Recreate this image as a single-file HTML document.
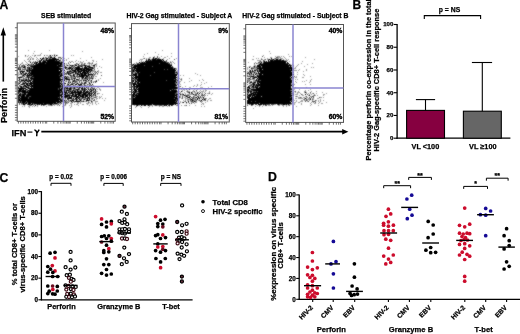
<!DOCTYPE html>
<html><head><meta charset="utf-8"><style>
html,body{margin:0;padding:0;background:#fff;overflow:hidden}
svg{display:block;will-change:transform}
text{font-family:"Liberation Sans",sans-serif;stroke:#000;stroke-width:0.25px}
</style></head><body>
<svg width="520" height="334" viewBox="0 0 520 334">
<text x="-0.60" y="9.10" font-size="12.2" text-anchor="start" font-weight="bold" fill="#000">A</text>
<text x="352.60" y="8.90" font-size="12.0" text-anchor="start" font-weight="bold" fill="#000">B</text>
<text x="-0.60" y="181.60" font-size="12.2" text-anchor="start" font-weight="bold" fill="#000">C</text>
<text x="268.00" y="181.10" font-size="12.3" text-anchor="start" font-weight="bold" fill="#000">D</text>
<text x="66.20" y="17.80" font-size="6.85" text-anchor="middle" font-weight="bold" fill="#000">SEB stimulated</text>
<text x="114.00" y="32.70" font-size="6.8" text-anchor="end" font-weight="bold" fill="#000" style="stroke-width:0.4px">48%</text>
<text x="114.00" y="118.70" font-size="6.8" text-anchor="end" font-weight="bold" fill="#000" style="stroke-width:0.4px">52%</text>
<text x="179.40" y="17.80" font-size="6.85" text-anchor="middle" font-weight="bold" fill="#000">HIV-2 Gag stimulated - Subject A</text>
<text x="228.10" y="32.70" font-size="6.8" text-anchor="end" font-weight="bold" fill="#000" style="stroke-width:0.4px">9%</text>
<text x="228.10" y="118.70" font-size="6.8" text-anchor="end" font-weight="bold" fill="#000" style="stroke-width:0.4px">81%</text>
<text x="295.40" y="17.80" font-size="6.85" text-anchor="middle" font-weight="bold" fill="#000">HIV-2 Gag stimulated - Subject B</text>
<text x="342.30" y="32.70" font-size="6.8" text-anchor="end" font-weight="bold" fill="#000" style="stroke-width:0.4px">40%</text>
<text x="342.30" y="118.70" font-size="6.8" text-anchor="end" font-weight="bold" fill="#000" style="stroke-width:0.4px">60%</text>
<defs><filter id="bl" filterUnits="userSpaceOnUse" x="0" y="0" width="520" height="334"><feConvolveMatrix order="3" kernelMatrix="1 2 1 2 12 2 1 2 1" divisor="24" edgeMode="none"/></filter></defs><g filter="url(#bl)">
<path d="M28 50h1M49 50h1M34 51h1M82 51h1M33 53h1M41 53h1M40 54h1M54 54h1M28 55h1M32 55h1M34 55h1M37 55h4M46 55h2M49 55h1M57 55h1M71 55h1M73 55h1M18 56h1M25 56h1M27 56h1M30 56h1M34 56h1M48 56h2M51 56h1M54 56h2M29 57h1M31 57h1M36 57h1M46 57h1M49 57h1M52 57h2M62 57h1M91 57h1M28 58h1M30 58h1M32 58h2M37 58h1M44 58h2M48 58h1M51 58h1M56 58h1M58 58h1M60 58h1M64 58h1M68 58h1M80 58h1M27 59h2M32 59h2M36 59h1M38 59h1M43 59h3M47 59h1M60 59h1M62 59h1M66 59h1M102 59h1M24 60h1M29 60h1M37 60h1M57 60h2M62 60h3M66 60h1M76 60h1M86 60h1M92 60h2M25 61h1M28 61h3M33 61h1M37 61h2M46 61h1M60 61h3M69 61h1M71 61h2M75 61h1M78 61h1M80 61h1M83 61h1M93 61h1M96 61h1M22 62h1M26 62h1M33 62h1M68 62h1M73 62h1M80 62h3M88 62h2M92 62h1M21 63h2M27 63h1M31 63h2M37 63h1M62 63h2M66 63h1M77 63h1M79 63h1M81 63h2M85 63h1M87 63h2M90 63h2M96 63h1M18 64h1M23 64h1M25 64h2M29 64h2M32 64h1M62 64h1M64 64h1M66 64h1M69 64h1M74 64h1M76 64h2M82 64h2M89 64h1M91 64h1M94 64h1M96 64h1M21 65h1M28 65h1M62 65h1M66 65h1M68 65h2M74 65h1M87 65h2M91 65h2M96 65h1M23 66h1M28 66h1M64 66h1M69 66h1M73 66h1M84 66h1M86 66h1M90 66h1M93 66h1M96 66h1M99 66h1M21 67h2M30 67h1M60 67h1M67 67h2M72 67h1M74 67h1M87 67h1M93 67h1M101 67h1M19 68h1M22 68h1M24 68h1M32 68h1M66 68h2M73 68h1M94 68h1M97 68h1M26 69h1M61 69h2M68 69h1M73 69h2M92 69h1M19 70h4M24 70h1M62 70h1M69 70h1M71 70h1M76 70h1M93 70h2M98 70h1M19 71h1M26 71h1M30 71h1M65 71h1M72 71h1M82 71h1M89 71h1M91 71h4M98 71h1M18 72h1M25 72h2M28 72h1M61 72h3M66 72h1M70 72h1M74 72h1M77 72h1M92 72h1M94 72h2M98 72h1M100 72h2M18 73h1M22 73h1M24 73h1M27 73h1M62 73h1M64 73h1M72 73h2M79 73h1M90 73h2M18 74h3M22 74h1M28 74h1M62 74h1M65 74h1M70 74h1M75 74h2M86 74h2M93 74h1M95 74h1M97 74h1M18 75h1M24 75h2M63 75h1M69 75h1M72 75h1M76 75h1M89 75h3M93 75h2M20 76h2M23 76h1M26 76h1M30 76h1M63 76h1M66 76h1M68 76h1M70 76h1M72 76h1M75 76h1M85 76h1M88 76h1M92 76h1M95 76h2M22 77h2M25 77h1M60 77h2M65 77h1M67 77h1M69 77h2M72 77h3M78 77h2M88 77h1M90 77h1M92 77h2M18 78h1M24 78h3M62 78h2M68 78h2M72 78h1M81 78h1M83 78h1M88 78h1M93 78h1M95 78h1M100 78h1M20 79h1M22 79h1M24 79h1M27 79h1M29 79h2M65 79h1M70 79h1M79 79h1M81 79h6M92 79h1M98 79h1M32 80h1M61 80h2M66 80h1M68 80h1M72 80h1M75 80h3M79 80h1M89 80h2M98 80h1M22 81h2M25 81h2M60 81h1M62 81h1M65 81h1M69 81h2M77 81h1M81 81h1M83 81h1M85 81h1M87 81h2M90 81h1M93 81h2M18 82h2M22 82h1M24 82h1M26 82h1M60 82h1M64 82h1M69 82h1M74 82h1M76 82h2M82 82h1M86 82h1M88 82h1M103 82h1M67 83h3M71 83h1M76 83h1M78 83h1M80 83h1M83 83h1M86 83h1M90 83h1M20 84h1M28 84h1M32 84h1M60 84h1M64 84h1M73 84h1M83 84h1M88 84h2M20 85h1M23 85h1M26 85h1M30 85h1M61 85h1M66 85h1M68 85h1M74 85h2M77 85h2M82 85h1M86 85h2M90 85h1M93 85h1M18 86h2M22 86h1M27 86h1M29 86h1M64 86h2M67 86h1M71 86h1M74 86h2M82 86h1M86 86h1M88 86h3M94 86h1M24 87h2M29 87h1M32 87h1M61 87h1M63 87h1M69 87h1M72 87h1M75 87h1M78 87h1M81 87h1M87 87h1M92 87h1M94 87h1M97 87h2M27 88h1M60 88h1M65 88h1M72 88h1M75 88h1M83 88h1M87 88h1M91 88h1M96 88h1M99 88h1M18 89h1M65 89h2M68 89h1M74 89h1M89 89h1M92 89h1M94 89h1M97 89h1M99 89h2M26 90h1M62 90h1M65 90h1M71 90h1M76 90h1M78 90h2M90 90h1M100 90h1M65 91h1M73 91h1M76 91h1M85 91h1M89 91h1M96 91h2M20 92h2M67 92h1M70 92h1M90 92h1M92 92h1M94 92h1M19 93h1M21 93h1M26 93h1M60 93h2M64 93h1M74 93h1M76 93h1M82 93h1M87 93h1M98 93h2M18 94h1M66 94h1M70 94h1M74 94h1M90 94h1M94 94h1M97 94h1M102 94h1M25 95h1M64 95h1M88 95h1M92 95h1M94 95h1M60 96h1M79 96h1M84 96h1M92 96h2M95 96h3M99 96h1M101 96h1M20 97h1M62 97h1M73 97h3M80 97h2M90 97h2M93 97h1M96 97h1M99 97h2M61 98h2M72 98h1M77 98h1M80 98h1M83 98h2M93 98h1M96 98h2M99 98h1M102 98h1M105 98h1M65 99h1M71 99h1M85 99h2M91 99h2M96 99h1M59 100h1M63 100h1M65 100h1M69 100h1M77 100h3M81 100h1M83 100h1M90 100h2M104 100h1M19 101h1M64 101h1M66 101h5M72 101h1M80 101h1M84 101h2M88 101h1M92 101h1M95 101h3M56 102h1M61 102h1M64 102h1M67 102h1M71 102h1M74 102h1M77 102h2M80 102h1M89 102h1M91 102h2M95 102h1M27 103h1M31 103h1M58 103h3M66 103h2M70 103h2M77 103h2M80 103h1M86 103h3M90 103h1M92 103h1M95 103h1M98 103h1M21 104h2M25 104h1M33 104h1M35 104h2M40 104h1M47 104h1M52 104h1M54 104h4M60 104h1M71 104h1M74 104h1M76 104h2M82 104h2M87 104h1M92 104h1M96 104h1M24 105h1M29 105h1M31 105h1M33 105h1M37 105h1M44 105h1M48 105h3M52 105h1M54 105h1M57 105h1M64 105h2M69 105h1M71 105h1M78 105h1M89 105h1M22 106h1M24 106h1M28 106h2M32 106h1M34 106h1M37 106h1M46 106h1M62 106h2M71 106h1M29 107h1M70 107h1" stroke="#000" stroke-opacity="0.38" stroke-width="1" transform="translate(0 .5)"/>
<path d="M25 55h1M35 55h1M44 55h1M52 55h1M50 56h1M43 57h1M45 57h1M48 57h1M58 57h3M49 58h2M61 58h1M30 59h1M42 59h1M48 59h1M39 60h2M44 60h2M55 60h1M60 60h1M35 61h1M42 61h1M59 61h1M32 62h1M34 62h2M41 62h1M60 62h1M70 62h1M35 63h1M45 63h1M68 63h1M76 63h1M84 63h1M89 63h1M92 63h1M20 64h1M31 64h1M35 64h1M59 64h1M75 64h1M81 64h1M84 64h1M95 64h1M19 65h1M22 65h3M29 65h5M57 65h1M61 65h1M64 65h1M71 65h1M73 65h1M78 65h6M86 65h1M89 65h1M19 66h1M21 66h2M25 66h1M30 66h1M62 66h2M65 66h1M71 66h2M74 66h1M77 66h1M79 66h2M82 66h1M94 66h1M18 67h3M25 67h1M28 67h1M31 67h2M59 67h1M63 67h2M71 67h1M73 67h1M82 67h1M88 67h1M94 67h1M20 68h1M25 68h1M27 68h2M30 68h1M62 68h2M71 68h1M74 68h2M83 68h1M89 68h3M93 68h1M19 69h1M22 69h4M27 69h2M30 69h2M66 69h2M69 69h1M72 69h1M82 69h1M85 69h1M94 69h1M28 70h1M63 70h1M70 70h1M79 70h2M87 70h1M90 70h1M92 70h1M28 71h1M63 71h1M68 71h1M71 71h1M73 71h1M76 71h2M85 71h1M95 71h1M97 71h1M23 72h1M30 72h1M64 72h1M68 72h2M71 72h1M76 72h1M79 72h1M86 72h1M88 72h3M96 72h1M20 73h1M23 73h1M29 73h1M60 73h1M63 73h1M65 73h3M69 73h1M71 73h1M76 73h1M78 73h1M83 73h1M87 73h1M93 73h1M95 73h1M97 73h1M21 74h1M23 74h1M30 74h1M60 74h1M64 74h1M66 74h1M69 74h1M74 74h1M80 74h1M83 74h1M94 74h1M22 75h1M26 75h1M32 75h1M59 75h1M71 75h1M74 75h1M77 75h1M80 75h1M87 75h1M92 75h1M101 75h1M22 76h1M24 76h1M28 76h2M31 76h1M61 76h1M64 76h1M67 76h1M71 76h1M73 76h1M76 76h3M84 76h1M89 76h1M93 76h1M26 77h2M29 77h2M32 77h2M62 77h2M68 77h1M71 77h1M75 77h1M77 77h1M81 77h1M86 77h2M89 77h1M91 77h1M19 78h1M23 78h1M60 78h1M64 78h1M67 78h1M71 78h1M73 78h1M75 78h1M79 78h1M84 78h1M86 78h2M89 78h3M21 79h1M23 79h1M25 79h1M32 79h1M64 79h1M71 79h2M74 79h1M78 79h1M89 79h1M18 80h2M24 80h1M27 80h2M31 80h1M63 80h1M69 80h1M73 80h1M78 80h1M80 80h2M84 80h1M86 80h1M96 80h1M19 81h3M29 81h1M63 81h1M66 81h1M68 81h1M72 81h1M74 81h3M79 81h1M86 81h1M91 81h1M95 81h1M20 82h1M23 82h1M28 82h1M32 82h1M61 82h1M72 82h1M75 82h1M79 82h1M81 82h1M84 82h1M89 82h1M93 82h1M95 82h1M18 83h1M22 83h1M25 83h1M28 83h1M61 83h3M72 83h3M81 83h2M85 83h1M18 84h1M23 84h2M29 84h1M62 84h1M67 84h1M70 84h1M79 84h1M84 84h1M87 84h1M90 84h1M19 85h1M63 85h2M67 85h1M69 85h2M73 85h1M80 85h2M84 85h2M89 85h1M91 85h1M24 86h1M28 86h1M61 86h1M63 86h1M69 86h1M72 86h1M80 86h1M83 86h1M20 87h1M22 87h2M60 87h1M64 87h1M66 87h1M71 87h1M73 87h1M76 87h1M80 87h1M84 87h1M88 87h1M91 87h1M58 88h1M63 88h1M68 88h1M71 88h1M73 88h1M78 88h2M85 88h1M88 88h1M90 88h1M92 88h3M22 89h1M25 89h1M27 89h1M29 89h1M58 89h1M62 89h1M67 89h1M71 89h1M73 89h1M75 89h1M79 89h1M81 89h1M83 89h1M85 89h1M91 89h1M21 90h1M27 90h1M63 90h1M69 90h2M72 90h1M74 90h2M80 90h4M85 90h1M87 90h1M89 90h1M92 90h2M26 91h1M28 91h1M60 91h1M62 91h2M68 91h2M71 91h1M79 91h1M88 91h1M93 91h3M19 92h1M61 92h1M69 92h1M82 92h1M84 92h1M88 92h1M91 92h1M22 93h2M27 93h1M63 93h1M66 93h1M69 93h1M73 93h1M77 93h1M81 93h1M86 93h1M90 93h1M92 93h1M95 93h1M97 93h1M21 94h1M26 94h1M60 94h1M67 94h3M80 94h2M86 94h1M88 94h1M95 94h1M21 95h1M70 95h1M73 95h2M81 95h1M84 95h1M91 95h1M93 95h1M19 96h2M25 96h1M29 96h2M63 96h1M68 96h1M72 96h1M28 97h1M58 97h1M63 97h2M66 97h3M78 97h1M84 97h1M87 97h1M89 97h1M94 97h2M19 98h1M28 98h1M60 98h1M65 98h1M79 98h1M81 98h2M85 98h2M88 98h1M91 98h2M20 99h1M61 99h3M67 99h2M72 99h4M77 99h1M80 99h2M83 99h1M94 99h1M62 100h1M66 100h1M68 100h1M71 100h1M89 100h1M93 100h2M21 101h1M26 101h1M60 101h1M62 101h1M65 101h1M73 101h2M81 101h2M86 101h1M19 102h1M21 102h1M25 102h1M27 102h1M59 102h1M65 102h2M68 102h1M72 102h1M88 102h1M19 103h1M21 103h2M24 103h1M33 103h1M43 103h1M53 103h1M57 103h1M61 103h1M65 103h1M19 104h1M27 104h1M30 104h1M34 104h1M38 104h1M46 104h1M48 104h2M53 104h1M58 104h1M63 104h1M65 104h1M30 105h1M41 105h1M43 105h1M51 105h1M59 105h1" stroke="#000" stroke-opacity="0.68" stroke-width="1" transform="translate(0 .5)"/>
<path d="M50 55h1M54 55h1M56 55h1M50 57h2M54 57h1M40 58h1M42 58h2M46 58h2M52 58h4M41 59h1M46 59h1M49 59h10M41 60h1M43 60h1M46 60h9M56 60h1M59 60h1M39 61h2M43 61h3M47 61h12M30 62h1M36 62h2M39 62h2M42 62h18M61 62h2M34 63h1M36 63h1M38 63h7M46 63h16M64 63h1M28 64h1M33 64h1M36 64h23M60 64h2M63 64h1M78 64h1M27 65h1M34 65h23M58 65h3M63 65h1M67 65h1M70 65h1M72 65h1M75 65h2M84 65h2M93 65h2M24 66h1M31 66h31M78 66h1M81 66h1M85 66h1M87 66h3M23 67h2M27 67h1M29 67h1M33 67h26M65 67h2M69 67h2M75 67h5M84 67h3M89 67h4M18 68h1M29 68h1M31 68h1M33 68h29M65 68h1M68 68h3M72 68h1M76 68h7M84 68h5M92 68h1M18 69h1M20 69h1M29 69h1M32 69h29M63 69h1M71 69h1M75 69h7M83 69h2M86 69h6M26 70h2M29 70h30M60 70h2M64 70h1M72 70h4M77 70h2M81 70h6M88 70h2M91 70h1M20 71h5M27 71h1M29 71h1M31 71h31M67 71h1M69 71h2M74 71h2M78 71h4M83 71h2M86 71h3M90 71h1M20 72h1M22 72h1M29 72h1M31 72h30M67 72h1M72 72h2M75 72h1M78 72h1M80 72h1M82 72h4M87 72h1M21 73h1M25 73h2M28 73h1M30 73h30M61 73h1M68 73h1M70 73h1M75 73h1M77 73h1M80 73h3M84 73h3M88 73h1M24 74h2M27 74h1M29 74h1M31 74h29M61 74h1M63 74h1M68 74h1M73 74h1M77 74h3M81 74h2M84 74h2M88 74h5M23 75h1M27 75h5M33 75h26M60 75h3M70 75h1M73 75h1M79 75h1M81 75h6M88 75h1M27 76h1M32 76h29M65 76h1M74 76h1M79 76h5M86 76h2M91 76h1M18 77h4M28 77h1M31 77h1M34 77h26M64 77h1M66 77h1M82 77h2M85 77h1M28 78h1M30 78h30M65 78h2M74 78h1M82 78h1M85 78h1M92 78h1M19 79h1M26 79h1M28 79h1M31 79h1M33 79h31M66 79h4M76 79h2M87 79h1M21 80h3M25 80h2M29 80h2M33 80h28M64 80h1M74 80h1M83 80h1M85 80h1M88 80h1M91 80h1M24 81h1M27 81h2M30 81h1M32 81h28M61 81h1M73 81h1M96 81h1M25 82h1M30 82h2M33 82h27M68 82h1M70 82h1M85 82h1M91 82h1M19 83h1M23 83h2M26 83h2M29 83h32M64 83h2M77 83h1M84 83h1M89 83h1M21 84h2M26 84h2M30 84h2M33 84h27M61 84h1M68 84h1M71 84h2M75 84h2M78 84h1M80 84h2M92 84h1M24 85h2M27 85h3M31 85h30M62 85h1M79 85h1M20 86h2M23 86h1M25 86h2M30 86h31M62 86h1M68 86h1M79 86h1M84 86h1M91 86h2M18 87h1M21 87h1M26 87h3M31 87h1M33 87h27M62 87h1M65 87h1M67 87h1M70 87h1M74 87h1M77 87h1M79 87h1M82 87h1M86 87h1M18 88h8M28 88h30M59 88h1M61 88h2M64 88h1M66 88h2M69 88h2M74 88h1M81 88h2M84 88h1M19 89h3M23 89h1M26 89h1M30 89h28M59 89h3M64 89h1M69 89h2M76 89h3M82 89h1M84 89h1M86 89h1M88 89h1M90 89h1M93 89h1M95 89h1M18 90h3M22 90h4M28 90h34M64 90h1M66 90h3M73 90h1M77 90h1M84 90h1M91 90h1M95 90h1M18 91h8M27 91h1M29 91h31M61 91h1M64 91h1M66 91h1M70 91h1M72 91h1M74 91h2M77 91h2M80 91h2M83 91h2M86 91h2M90 91h2M18 92h1M22 92h39M62 92h5M68 92h1M71 92h11M83 92h1M85 92h3M89 92h1M93 92h1M95 92h1M18 93h1M20 93h1M24 93h2M28 93h32M62 93h1M65 93h1M67 93h1M70 93h3M75 93h1M78 93h3M83 93h3M88 93h2M91 93h1M94 93h1M19 94h2M22 94h4M27 94h33M61 94h5M72 94h2M75 94h5M82 94h4M87 94h1M89 94h1M91 94h1M93 94h1M18 95h3M22 95h3M26 95h36M63 95h1M65 95h5M71 95h2M75 95h2M78 95h3M82 95h2M85 95h3M89 95h2M95 95h1M18 96h1M21 96h4M26 96h3M31 96h29M61 96h2M64 96h4M69 96h1M71 96h1M73 96h6M80 96h4M85 96h3M89 96h1M91 96h1M18 97h2M21 97h7M29 97h29M59 97h1M61 97h1M65 97h1M69 97h3M76 97h2M79 97h1M82 97h2M85 97h1M88 97h1M18 98h1M20 98h8M29 98h31M63 98h1M67 98h5M73 98h1M75 98h2M78 98h1M87 98h1M89 98h1M18 99h2M21 99h40M76 99h1M79 99h1M84 99h1M87 99h1M89 99h1M18 100h41M60 100h2M64 100h1M70 100h1M72 100h2M76 100h1M80 100h1M86 100h3M18 101h1M20 101h1M22 101h4M27 101h33M61 101h1M63 101h1M71 101h1M75 101h5M83 101h1M91 101h1M18 102h1M20 102h1M22 102h3M26 102h1M28 102h28M57 102h2M60 102h1M63 102h1M23 103h1M25 103h2M28 103h3M32 103h1M34 103h9M44 103h9M54 103h3M23 104h2M28 104h2M31 104h2M37 104h1M39 104h1M41 104h5M50 104h2M35 105h1" stroke="#000" stroke-opacity="1.00" stroke-width="1" transform="translate(0 .5)"/>
<path d="M162 50h1M155 52h1M147 53h1M171 53h1M144 54h1M158 54h1M143 56h1M154 56h1M161 56h1M167 56h1M171 56h1M149 57h2M154 57h1M159 57h1M164 57h2M143 58h1M146 58h1M148 58h2M152 58h1M154 58h1M157 58h1M159 58h1M163 58h1M169 58h1M176 58h1M140 59h3M150 59h2M161 59h1M163 59h1M167 59h1M139 60h1M141 60h1M147 60h1M162 60h1M141 61h1M143 61h1M170 61h1M172 61h1M178 61h1M136 62h1M140 62h1M171 62h1M173 62h1M134 63h1M136 63h1M139 63h1M171 63h1M174 63h1M134 64h1M136 64h1M170 64h1M133 65h1M132 66h1M171 66h1M173 67h1M133 68h1M176 68h1M135 69h1M175 69h2M177 70h1M135 71h1M175 71h3M133 72h2M136 72h1M133 73h2M175 73h2M195 73h1M137 74h1M197 74h1M137 75h1M178 75h1M180 75h1M183 75h1M200 75h1M132 76h1M177 76h1M133 77h1M177 77h2M134 78h1M177 78h3M181 78h1M189 78h1M133 79h1M177 79h1M180 79h1M202 79h1M134 80h1M136 80h1M176 80h1M181 80h1M191 80h1M199 80h1M203 80h1M176 81h5M189 81h1M136 82h1M139 82h1M177 82h3M184 82h1M201 82h1M206 82h1M136 83h1M176 83h2M179 83h1M204 83h1M176 84h1M180 84h1M197 84h1M201 84h1M178 85h1M194 85h1M197 85h1M200 85h1M176 86h1M178 86h2M185 86h1M193 86h1M196 86h1M211 86h1M132 87h1M135 87h1M182 87h1M189 87h2M200 87h3M208 87h1M135 88h1M137 88h1M178 88h1M182 88h2M204 88h1M176 89h1M178 89h1M181 89h1M183 89h2M194 89h1M197 89h1M205 89h1M170 90h1M178 90h1M182 90h1M184 90h1M187 90h1M193 90h1M200 90h1M203 90h1M205 90h2M132 91h1M179 91h1M182 91h1M186 91h1M188 91h2M192 91h2M196 91h1M199 91h1M201 91h3M205 91h1M209 91h1M137 92h1M177 92h1M180 92h1M184 92h1M187 92h1M192 92h1M194 92h2M198 92h1M202 92h1M204 92h1M209 92h1M135 93h1M177 93h1M180 93h1M182 93h1M185 93h1M195 93h2M201 93h2M207 93h2M212 93h1M181 94h1M185 94h1M187 94h6M194 94h1M201 94h1M211 94h1M177 95h1M180 95h1M182 95h2M189 95h1M194 95h1M198 95h2M204 95h2M207 95h1M175 96h1M180 96h1M185 96h1M194 96h1M202 96h1M204 96h1M134 97h1M177 97h2M180 97h1M184 97h2M192 97h1M194 97h1M199 97h1M201 97h2M181 98h1M185 98h3M189 98h1M194 98h2M198 98h1M201 98h1M204 98h1M206 98h1M209 98h2M178 99h1M185 99h1M187 99h1M189 99h1M193 99h2M196 99h1M199 99h1M203 99h1M208 99h1M178 100h1M183 100h1M185 100h1M187 100h2M191 100h1M194 100h2M198 100h1M200 100h1M203 100h2M207 100h1M210 100h2M177 101h1M180 101h1M184 101h1M190 101h1M193 101h1M196 101h1M201 101h2M207 101h1M177 102h1M180 102h1M191 102h2M195 102h2M201 102h1M205 102h1M178 103h1M186 103h1M194 103h1M202 103h2M152 104h1M174 104h1M177 104h1M201 104h1M203 104h1M134 105h1M138 105h2M142 105h2M147 105h1M150 105h3M154 105h1M157 105h2M162 105h2M176 105h1M181 105h1M184 105h2M189 105h1M195 105h1M140 106h1M149 106h1M152 106h1M159 106h1M162 106h2M167 106h1M169 106h1M201 106h1M204 106h1M135 107h1M141 107h1M148 107h1" stroke="#000" stroke-opacity="0.38" stroke-width="1" transform="translate(0 .5)"/>
<path d="M157 56h1M157 57h1M144 58h1M158 58h1M146 59h1M156 59h1M174 59h1M149 60h1M151 60h1M166 60h1M163 61h1M165 61h2M141 62h1M143 62h1M145 62h1M166 62h3M170 62h1M137 63h2M159 63h1M168 63h2M132 64h1M135 64h1M171 64h1M144 65h1M133 66h1M152 66h1M172 66h1M136 67h1M173 68h1M175 68h1M133 69h1M164 69h1M167 69h1M134 70h1M134 71h1M135 72h1M139 72h1M154 72h1M175 72h1M177 72h1M137 73h1M132 74h1M177 74h1M133 75h1M150 75h1M133 76h1M137 78h1M132 79h1M134 79h3M174 79h1M176 79h1M181 79h1M166 80h1M137 81h1M134 82h1M175 82h1M175 83h1M132 84h1M137 84h1M177 84h2M133 86h1M175 86h1M180 86h1M133 87h1M138 87h1M177 87h1M133 88h1M177 88h1M179 88h1M132 89h2M136 89h1M172 89h1M174 89h2M186 89h1M132 90h1M196 90h1M134 91h1M137 91h1M177 91h1M187 91h1M194 91h1M133 92h1M136 92h1M138 92h1M176 92h1M188 92h1M197 92h1M200 92h1M136 93h1M175 93h2M179 93h1M189 93h1M191 93h2M205 93h1M209 93h1M135 94h1M137 94h1M175 94h1M182 94h1M195 94h2M198 94h1M202 94h1M204 94h1M134 95h1M178 95h1M185 95h4M195 95h2M201 95h3M135 96h1M177 96h3M182 96h1M187 96h1M189 96h2M193 96h1M197 96h2M200 96h1M133 97h1M179 97h1M182 97h1M187 97h1M191 97h1M193 97h1M195 97h1M200 97h1M174 98h1M182 98h1M190 98h1M192 98h2M203 98h1M205 98h1M176 99h1M188 99h1M190 99h1M192 99h1M195 99h1M205 99h1M176 100h1M190 100h1M193 100h1M196 100h1M199 100h1M205 100h1M175 101h1M185 101h1M191 101h2M195 101h1M200 101h1M176 102h1M182 102h1M188 102h1M193 102h1M179 103h1M189 103h1M191 103h1M168 104h1M136 105h1M149 105h1M155 105h2M159 105h3M165 105h1M168 105h1M172 105h1M177 105h1M186 105h1M136 106h1" stroke="#000" stroke-opacity="0.68" stroke-width="1" transform="translate(0 .5)"/>
<path d="M153 57h1M153 58h1M155 58h2M148 59h2M152 59h4M157 59h4M162 59h1M146 60h1M148 60h1M150 60h1M152 60h10M163 60h1M145 61h18M164 61h1M139 62h1M142 62h1M144 62h1M146 62h20M140 63h19M160 63h8M133 64h1M137 64h33M132 65h1M134 65h10M145 65h27M134 66h18M153 66h18M132 67h4M137 67h36M132 68h1M134 68h39M174 68h1M132 69h1M134 69h1M136 69h28M165 69h2M168 69h7M132 70h2M135 70h41M132 71h2M136 71h39M132 72h1M137 72h2M140 72h14M155 72h20M176 72h1M132 73h1M135 73h2M138 73h37M177 73h1M133 74h4M138 74h39M132 75h1M134 75h3M138 75h12M151 75h26M135 76h41M132 77h1M134 77h43M132 78h2M135 78h2M138 78h38M137 79h37M175 79h1M132 80h2M135 80h1M137 80h29M167 80h9M177 80h1M132 81h2M135 81h2M138 81h38M132 82h1M135 82h1M137 82h2M140 82h35M176 82h1M132 83h4M137 83h38M133 84h4M138 84h38M133 85h2M136 85h41M132 86h1M134 86h41M134 87h1M136 87h2M139 87h38M178 87h1M134 88h1M136 88h1M138 88h39M134 89h2M137 89h35M173 89h1M189 89h1M134 90h3M138 90h32M171 90h6M133 91h1M135 91h2M138 91h39M181 91h1M132 92h1M134 92h2M139 92h37M189 92h1M191 92h1M133 93h2M137 93h38M178 93h1M197 93h1M199 93h1M132 94h3M136 94h1M138 94h37M176 94h2M180 94h1M183 94h1M193 94h1M132 95h2M135 95h42M184 95h1M132 96h3M136 96h39M176 96h1M186 96h1M132 97h1M135 97h42M188 97h2M196 97h1M198 97h1M203 97h1M132 98h42M175 98h4M197 98h1M199 98h1M132 99h44M177 99h1M191 99h1M197 99h1M202 99h1M204 99h1M132 100h44M177 100h1M192 100h1M201 100h1M132 101h43M176 101h1M188 101h1M194 101h1M132 102h44M183 102h1M186 102h1M132 103h46M132 104h20M153 104h15M169 104h5M175 104h1M137 105h1M141 105h1M144 105h2M148 105h1M164 105h1M166 105h1M169 105h1M171 105h1" stroke="#000" stroke-opacity="1.00" stroke-width="1" transform="translate(0 .5)"/>
<path d="M269 51h1M270 53h1M288 54h1M263 55h1M253 56h1M275 56h1M277 56h3M281 56h1M283 56h1M289 56h1M291 56h1M264 57h1M270 57h2M278 57h3M284 57h1M305 57h1M256 58h1M258 58h1M261 58h1M267 58h1M274 58h1M276 58h3M280 58h3M285 58h1M252 59h2M262 59h1M264 59h1M267 59h1M270 59h1M274 59h2M278 59h1M281 59h1M283 59h1M286 59h1M288 59h1M314 59h1M257 60h4M264 60h1M284 60h4M259 61h1M261 61h1M265 61h1M289 61h1M302 61h1M248 62h1M255 62h1M260 62h1M257 63h3M262 63h1M301 63h1M312 63h1M254 64h1M258 64h1M288 64h1M290 64h1M292 64h1M298 64h1M307 64h1M254 65h2M293 65h1M297 65h1M249 66h2M253 66h1M255 66h2M261 66h1M289 66h1M291 66h1M293 66h1M296 66h1M304 66h1M247 67h1M251 67h3M255 67h1M292 67h1M295 67h1M311 67h1M313 67h1M247 68h1M254 68h3M293 68h3M247 69h1M249 69h1M251 69h2M254 69h2M258 69h1M262 69h1M293 69h1M299 69h1M306 69h1M249 70h1M256 70h1M258 70h1M293 70h4M298 70h1M306 70h1M247 71h1M251 71h1M254 71h2M291 71h2M303 71h1M247 72h1M249 72h1M252 72h2M255 72h2M297 72h1M250 73h1M253 73h3M257 73h1M292 73h1M247 74h1M250 74h1M252 74h1M256 74h3M262 74h1M297 74h1M303 74h1M249 75h3M254 75h1M256 75h1M292 75h1M304 75h1M254 76h1M256 76h1M296 76h1M310 76h1M252 77h1M257 77h1M290 77h1M295 77h2M302 77h2M250 78h1M291 78h1M293 78h1M247 79h3M251 79h4M257 79h1M291 79h2M295 79h1M297 79h1M311 79h1M248 80h1M253 80h2M292 80h1M306 80h1M310 80h1M248 81h3M253 81h2M256 81h1M295 81h1M302 81h1M304 81h1M310 81h1M249 82h1M252 82h1M296 82h1M309 82h1M250 83h1M255 83h1M259 83h1M291 83h1M293 83h1M250 84h1M255 84h1M291 84h1M293 84h2M305 84h1M310 84h1M252 85h1M292 85h2M250 86h2M254 86h1M259 86h1M258 87h1M292 87h1M295 87h1M306 87h1M248 88h1M251 88h2M254 88h2M292 88h1M294 88h1M249 89h2M292 89h1M294 89h1M299 89h1M310 89h1M291 90h3M305 90h1M308 90h1M252 91h1M292 91h1M294 91h1M298 91h1M304 91h2M311 91h1M316 91h1M252 92h1M291 92h3M295 92h1M297 92h3M304 92h1M306 92h1M322 92h1M248 93h1M293 93h1M297 93h1M300 93h1M306 93h1M308 93h1M310 93h1M312 93h1M316 93h1M326 93h1M248 94h1M291 94h2M295 94h3M302 94h1M309 94h1M311 94h1M314 94h1M323 94h2M293 95h1M299 95h1M302 95h2M308 95h1M313 95h1M315 95h1M317 95h1M323 95h1M251 96h1M253 96h1M261 96h1M295 96h1M297 96h1M305 96h1M310 96h2M298 97h2M301 97h1M303 97h2M306 97h2M320 97h2M323 97h1M295 98h2M298 98h5M304 98h1M306 98h1M308 98h2M312 98h2M317 98h2M293 99h1M303 99h1M307 99h3M313 99h1M320 99h1M294 100h1M296 100h1M301 100h2M304 100h2M307 100h1M309 100h1M312 100h1M316 100h1M318 100h1M320 100h1M323 100h1M290 101h1M292 101h1M296 101h1M300 101h3M307 101h1M315 101h1M318 101h1M320 101h1M294 102h2M298 102h2M311 102h1M313 102h1M319 102h1M326 102h1M259 103h1M292 103h1M294 103h1M301 103h1M310 103h1M314 103h2M318 103h1M321 103h2M247 104h1M250 104h1M262 104h1M274 104h2M280 104h1M287 104h1M289 104h3M294 104h1M301 104h1M311 104h1M252 105h1M257 105h1M260 105h1M263 105h1M268 105h3M272 105h1M278 105h2M282 105h2M286 105h1M288 105h1M310 105h1M318 105h1M255 106h1M259 106h1M262 106h1M283 106h1M286 106h1M296 106h1M253 108h1" stroke="#000" stroke-opacity="0.38" stroke-width="1" transform="translate(0 .5)"/>
<path d="M262 56h1M276 57h2M275 58h1M261 59h1M265 59h1M268 59h1M271 59h2M279 59h1M263 60h1M273 60h1M281 60h1M260 61h1M263 61h1M269 61h1M286 61h1M258 62h2M263 62h1M254 63h1M256 63h1M261 63h1M286 63h1M260 65h1M291 65h1M254 67h1M256 67h3M261 67h1M252 68h2M256 69h2M290 69h1M292 69h1M249 71h1M253 71h1M258 71h1M248 72h1M251 72h1M292 72h2M248 73h2M251 74h1M247 75h1M253 75h1M258 75h1M247 76h4M255 76h1M294 76h1M250 77h1M253 77h1M292 77h2M247 78h2M252 78h1M254 78h1M258 78h1M292 78h1M250 79h1M247 80h1M249 80h1M255 80h1M257 80h1M259 80h2M247 81h1M251 81h1M255 81h1M253 82h1M258 82h1M249 83h1M252 83h1M254 83h1M247 84h1M251 84h2M257 84h1M292 84h1M249 85h3M254 85h2M249 86h1M256 86h1M258 86h1M251 87h2M254 87h1M247 88h1M250 88h1M253 88h1M291 88h1M249 90h4M290 90h1M248 91h2M253 91h3M257 91h1M295 91h1M247 92h1M251 92h1M310 92h1M247 93h1M250 93h1M254 93h1M256 93h1M291 93h1M313 93h1M252 94h1M293 94h1M301 94h1M307 94h1M247 95h1M251 95h1M255 95h1M314 95h1M248 96h1M291 96h1M296 96h1M306 96h1M312 96h2M290 97h1M292 97h1M300 97h1M309 97h1M311 97h1M313 97h1M319 97h1M247 98h1M292 98h1M310 98h1M292 99h1M304 99h1M306 99h1M312 99h1M291 100h2M306 100h1M315 100h1M251 101h1M255 101h1M305 101h1M308 101h1M312 101h3M292 102h1M315 102h1M291 103h1M249 104h1M253 104h1M255 104h2M264 104h1M266 104h4M271 104h3M277 104h1M279 104h1M281 104h2M285 104h1M247 105h1M251 105h1M259 105h1M265 105h2M289 105h1" stroke="#000" stroke-opacity="0.68" stroke-width="1" transform="translate(0 .5)"/>
<path d="M271 58h1M269 59h1M273 59h1M276 59h2M280 59h1M268 60h1M270 60h3M274 60h7M282 60h2M264 61h1M266 61h1M268 61h1M270 61h16M261 62h1M264 62h22M287 62h1M260 63h1M263 63h23M287 63h2M259 64h29M289 64h1M257 65h3M261 65h30M254 66h1M257 66h4M262 66h27M290 66h1M249 67h1M259 67h2M262 67h30M251 68h1M257 68h36M259 69h3M263 69h27M291 69h1M250 70h1M252 70h1M254 70h2M257 70h1M259 70h34M250 71h1M252 71h1M257 71h1M259 71h32M250 72h1M254 72h1M258 72h1M260 72h32M247 73h1M251 73h1M256 73h1M258 73h34M249 74h1M253 74h1M255 74h1M259 74h3M263 74h31M257 75h1M259 75h33M251 76h3M257 76h34M292 76h1M254 77h3M258 77h32M291 77h1M249 78h1M253 78h1M257 78h1M259 78h32M256 79h1M258 79h33M256 80h1M258 80h1M261 80h31M257 81h35M247 82h1M250 82h2M254 82h2M257 82h1M259 82h33M253 83h1M257 83h2M260 83h31M253 84h2M256 84h1M258 84h33M253 85h1M256 85h36M248 86h1M252 86h2M255 86h1M257 86h1M260 86h31M292 86h1M247 87h3M253 87h1M255 87h3M259 87h32M249 88h1M256 88h35M247 89h2M251 89h41M247 90h2M253 90h37M247 91h1M250 91h2M256 91h1M258 91h34M248 92h1M250 92h1M253 92h38M305 92h1M251 93h3M255 93h1M257 93h34M292 93h1M247 94h1M249 94h3M253 94h38M305 94h1M248 95h3M252 95h3M256 95h37M309 95h1M247 96h1M249 96h2M252 96h1M254 96h7M262 96h29M247 97h3M251 97h39M291 97h1M248 98h44M305 98h1M248 99h44M310 99h1M247 100h44M247 101h4M252 101h3M256 101h34M291 101h1M247 102h44M247 103h12M260 103h31M251 104h2M258 104h4M263 104h1M265 104h1M278 104h1M283 104h2M286 104h1M288 104h1" stroke="#000" stroke-opacity="1.00" stroke-width="1" transform="translate(0 .5)"/>
</g>
<rect x="17.20" y="23.00" width="98.00" height="98.30" fill="none" stroke="#555" stroke-width="1"/>
<line x1="63.50" y1="23.00" x2="63.50" y2="121.30" stroke="#8a84d0" stroke-width="1.5"/>
<line x1="63.50" y1="86.60" x2="115.20" y2="86.60" stroke="#8a84d0" stroke-width="1.5"/>
<line x1="18.40" y1="121.30" x2="18.40" y2="123.60" stroke="#444" stroke-width="0.75"/>
<line x1="20.85" y1="121.30" x2="20.85" y2="123.60" stroke="#444" stroke-width="0.75"/>
<line x1="23.30" y1="121.30" x2="23.30" y2="123.60" stroke="#444" stroke-width="0.75"/>
<line x1="25.75" y1="121.30" x2="25.75" y2="123.60" stroke="#444" stroke-width="0.75"/>
<line x1="28.20" y1="121.30" x2="28.20" y2="123.60" stroke="#444" stroke-width="0.75"/>
<line x1="30.65" y1="121.30" x2="30.65" y2="123.60" stroke="#444" stroke-width="0.75"/>
<line x1="33.10" y1="121.30" x2="33.10" y2="123.60" stroke="#444" stroke-width="0.75"/>
<line x1="35.55" y1="121.30" x2="35.55" y2="123.60" stroke="#444" stroke-width="0.75"/>
<line x1="38.00" y1="121.30" x2="38.00" y2="123.60" stroke="#444" stroke-width="0.75"/>
<line x1="40.45" y1="121.30" x2="40.45" y2="123.60" stroke="#444" stroke-width="0.75"/>
<line x1="42.90" y1="121.30" x2="42.90" y2="123.60" stroke="#444" stroke-width="0.75"/>
<line x1="45.35" y1="121.30" x2="45.35" y2="123.60" stroke="#444" stroke-width="0.75"/>
<line x1="46.70" y1="121.30" x2="46.70" y2="123.60" stroke="#444" stroke-width="0.75"/>
<line x1="53.77" y1="121.30" x2="53.77" y2="123.60" stroke="#444" stroke-width="0.75"/>
<line x1="57.91" y1="121.30" x2="57.91" y2="123.60" stroke="#444" stroke-width="0.75"/>
<line x1="60.85" y1="121.30" x2="60.85" y2="123.60" stroke="#444" stroke-width="0.75"/>
<line x1="63.13" y1="121.30" x2="63.13" y2="123.60" stroke="#444" stroke-width="0.75"/>
<line x1="64.99" y1="121.30" x2="64.99" y2="123.60" stroke="#444" stroke-width="0.75"/>
<line x1="66.56" y1="121.30" x2="66.56" y2="123.60" stroke="#444" stroke-width="0.75"/>
<line x1="67.92" y1="121.30" x2="67.92" y2="123.60" stroke="#444" stroke-width="0.75"/>
<line x1="69.12" y1="121.30" x2="69.12" y2="123.60" stroke="#444" stroke-width="0.75"/>
<line x1="70.20" y1="121.30" x2="70.20" y2="123.60" stroke="#444" stroke-width="0.75"/>
<line x1="77.27" y1="121.30" x2="77.27" y2="123.60" stroke="#444" stroke-width="0.75"/>
<line x1="81.41" y1="121.30" x2="81.41" y2="123.60" stroke="#444" stroke-width="0.75"/>
<line x1="84.35" y1="121.30" x2="84.35" y2="123.60" stroke="#444" stroke-width="0.75"/>
<line x1="86.63" y1="121.30" x2="86.63" y2="123.60" stroke="#444" stroke-width="0.75"/>
<line x1="88.49" y1="121.30" x2="88.49" y2="123.60" stroke="#444" stroke-width="0.75"/>
<line x1="90.06" y1="121.30" x2="90.06" y2="123.60" stroke="#444" stroke-width="0.75"/>
<line x1="91.42" y1="121.30" x2="91.42" y2="123.60" stroke="#444" stroke-width="0.75"/>
<line x1="92.62" y1="121.30" x2="92.62" y2="123.60" stroke="#444" stroke-width="0.75"/>
<line x1="93.70" y1="121.30" x2="93.70" y2="123.60" stroke="#444" stroke-width="0.75"/>
<line x1="100.77" y1="121.30" x2="100.77" y2="123.60" stroke="#444" stroke-width="0.75"/>
<line x1="104.91" y1="121.30" x2="104.91" y2="123.60" stroke="#444" stroke-width="0.75"/>
<line x1="107.85" y1="121.30" x2="107.85" y2="123.60" stroke="#444" stroke-width="0.75"/>
<line x1="110.13" y1="121.30" x2="110.13" y2="123.60" stroke="#444" stroke-width="0.75"/>
<line x1="111.99" y1="121.30" x2="111.99" y2="123.60" stroke="#444" stroke-width="0.75"/>
<line x1="113.56" y1="121.30" x2="113.56" y2="123.60" stroke="#444" stroke-width="0.75"/>
<line x1="17.20" y1="120.10" x2="14.90" y2="120.10" stroke="#444" stroke-width="0.75"/>
<line x1="17.20" y1="117.60" x2="14.90" y2="117.60" stroke="#444" stroke-width="0.75"/>
<line x1="17.20" y1="115.10" x2="14.90" y2="115.10" stroke="#444" stroke-width="0.75"/>
<line x1="17.20" y1="112.60" x2="14.90" y2="112.60" stroke="#444" stroke-width="0.75"/>
<line x1="17.20" y1="110.10" x2="14.90" y2="110.10" stroke="#444" stroke-width="0.75"/>
<line x1="17.20" y1="107.60" x2="14.90" y2="107.60" stroke="#444" stroke-width="0.75"/>
<line x1="17.20" y1="105.30" x2="14.90" y2="105.30" stroke="#444" stroke-width="0.75"/>
<line x1="17.20" y1="98.23" x2="14.90" y2="98.23" stroke="#444" stroke-width="0.75"/>
<line x1="17.20" y1="94.09" x2="14.90" y2="94.09" stroke="#444" stroke-width="0.75"/>
<line x1="17.20" y1="91.15" x2="14.90" y2="91.15" stroke="#444" stroke-width="0.75"/>
<line x1="17.20" y1="88.87" x2="14.90" y2="88.87" stroke="#444" stroke-width="0.75"/>
<line x1="17.20" y1="87.01" x2="14.90" y2="87.01" stroke="#444" stroke-width="0.75"/>
<line x1="17.20" y1="85.44" x2="14.90" y2="85.44" stroke="#444" stroke-width="0.75"/>
<line x1="17.20" y1="84.08" x2="14.90" y2="84.08" stroke="#444" stroke-width="0.75"/>
<line x1="17.20" y1="82.88" x2="14.90" y2="82.88" stroke="#444" stroke-width="0.75"/>
<line x1="17.20" y1="81.80" x2="14.90" y2="81.80" stroke="#444" stroke-width="0.75"/>
<line x1="17.20" y1="74.73" x2="14.90" y2="74.73" stroke="#444" stroke-width="0.75"/>
<line x1="17.20" y1="70.59" x2="14.90" y2="70.59" stroke="#444" stroke-width="0.75"/>
<line x1="17.20" y1="67.65" x2="14.90" y2="67.65" stroke="#444" stroke-width="0.75"/>
<line x1="17.20" y1="65.37" x2="14.90" y2="65.37" stroke="#444" stroke-width="0.75"/>
<line x1="17.20" y1="63.51" x2="14.90" y2="63.51" stroke="#444" stroke-width="0.75"/>
<line x1="17.20" y1="61.94" x2="14.90" y2="61.94" stroke="#444" stroke-width="0.75"/>
<line x1="17.20" y1="60.58" x2="14.90" y2="60.58" stroke="#444" stroke-width="0.75"/>
<line x1="17.20" y1="59.38" x2="14.90" y2="59.38" stroke="#444" stroke-width="0.75"/>
<line x1="17.20" y1="58.30" x2="14.90" y2="58.30" stroke="#444" stroke-width="0.75"/>
<line x1="17.20" y1="51.23" x2="14.90" y2="51.23" stroke="#444" stroke-width="0.75"/>
<line x1="17.20" y1="47.09" x2="14.90" y2="47.09" stroke="#444" stroke-width="0.75"/>
<line x1="17.20" y1="44.15" x2="14.90" y2="44.15" stroke="#444" stroke-width="0.75"/>
<line x1="17.20" y1="41.87" x2="14.90" y2="41.87" stroke="#444" stroke-width="0.75"/>
<line x1="17.20" y1="40.01" x2="14.90" y2="40.01" stroke="#444" stroke-width="0.75"/>
<line x1="17.20" y1="38.44" x2="14.90" y2="38.44" stroke="#444" stroke-width="0.75"/>
<line x1="17.20" y1="37.08" x2="14.90" y2="37.08" stroke="#444" stroke-width="0.75"/>
<line x1="17.20" y1="35.88" x2="14.90" y2="35.88" stroke="#444" stroke-width="0.75"/>
<line x1="17.20" y1="34.80" x2="14.90" y2="34.80" stroke="#444" stroke-width="0.75"/>
<line x1="17.20" y1="27.73" x2="14.90" y2="27.73" stroke="#444" stroke-width="0.75"/>
<rect x="131.50" y="23.60" width="97.80" height="98.40" fill="none" stroke="#555" stroke-width="1"/>
<line x1="178.50" y1="23.60" x2="178.50" y2="122.00" stroke="#8a84d0" stroke-width="1.5"/>
<line x1="178.50" y1="88.70" x2="229.30" y2="88.70" stroke="#8a84d0" stroke-width="1.5"/>
<line x1="132.70" y1="122.00" x2="132.70" y2="124.30" stroke="#444" stroke-width="0.75"/>
<line x1="135.15" y1="122.00" x2="135.15" y2="124.30" stroke="#444" stroke-width="0.75"/>
<line x1="137.60" y1="122.00" x2="137.60" y2="124.30" stroke="#444" stroke-width="0.75"/>
<line x1="140.05" y1="122.00" x2="140.05" y2="124.30" stroke="#444" stroke-width="0.75"/>
<line x1="142.50" y1="122.00" x2="142.50" y2="124.30" stroke="#444" stroke-width="0.75"/>
<line x1="144.95" y1="122.00" x2="144.95" y2="124.30" stroke="#444" stroke-width="0.75"/>
<line x1="147.40" y1="122.00" x2="147.40" y2="124.30" stroke="#444" stroke-width="0.75"/>
<line x1="149.85" y1="122.00" x2="149.85" y2="124.30" stroke="#444" stroke-width="0.75"/>
<line x1="152.30" y1="122.00" x2="152.30" y2="124.30" stroke="#444" stroke-width="0.75"/>
<line x1="154.75" y1="122.00" x2="154.75" y2="124.30" stroke="#444" stroke-width="0.75"/>
<line x1="157.20" y1="122.00" x2="157.20" y2="124.30" stroke="#444" stroke-width="0.75"/>
<line x1="159.65" y1="122.00" x2="159.65" y2="124.30" stroke="#444" stroke-width="0.75"/>
<line x1="161.00" y1="122.00" x2="161.00" y2="124.30" stroke="#444" stroke-width="0.75"/>
<line x1="168.07" y1="122.00" x2="168.07" y2="124.30" stroke="#444" stroke-width="0.75"/>
<line x1="172.21" y1="122.00" x2="172.21" y2="124.30" stroke="#444" stroke-width="0.75"/>
<line x1="175.15" y1="122.00" x2="175.15" y2="124.30" stroke="#444" stroke-width="0.75"/>
<line x1="177.43" y1="122.00" x2="177.43" y2="124.30" stroke="#444" stroke-width="0.75"/>
<line x1="179.29" y1="122.00" x2="179.29" y2="124.30" stroke="#444" stroke-width="0.75"/>
<line x1="180.86" y1="122.00" x2="180.86" y2="124.30" stroke="#444" stroke-width="0.75"/>
<line x1="182.22" y1="122.00" x2="182.22" y2="124.30" stroke="#444" stroke-width="0.75"/>
<line x1="183.42" y1="122.00" x2="183.42" y2="124.30" stroke="#444" stroke-width="0.75"/>
<line x1="184.50" y1="122.00" x2="184.50" y2="124.30" stroke="#444" stroke-width="0.75"/>
<line x1="191.57" y1="122.00" x2="191.57" y2="124.30" stroke="#444" stroke-width="0.75"/>
<line x1="195.71" y1="122.00" x2="195.71" y2="124.30" stroke="#444" stroke-width="0.75"/>
<line x1="198.65" y1="122.00" x2="198.65" y2="124.30" stroke="#444" stroke-width="0.75"/>
<line x1="200.93" y1="122.00" x2="200.93" y2="124.30" stroke="#444" stroke-width="0.75"/>
<line x1="202.79" y1="122.00" x2="202.79" y2="124.30" stroke="#444" stroke-width="0.75"/>
<line x1="204.36" y1="122.00" x2="204.36" y2="124.30" stroke="#444" stroke-width="0.75"/>
<line x1="205.72" y1="122.00" x2="205.72" y2="124.30" stroke="#444" stroke-width="0.75"/>
<line x1="206.92" y1="122.00" x2="206.92" y2="124.30" stroke="#444" stroke-width="0.75"/>
<line x1="208.00" y1="122.00" x2="208.00" y2="124.30" stroke="#444" stroke-width="0.75"/>
<line x1="215.07" y1="122.00" x2="215.07" y2="124.30" stroke="#444" stroke-width="0.75"/>
<line x1="219.21" y1="122.00" x2="219.21" y2="124.30" stroke="#444" stroke-width="0.75"/>
<line x1="222.15" y1="122.00" x2="222.15" y2="124.30" stroke="#444" stroke-width="0.75"/>
<line x1="224.43" y1="122.00" x2="224.43" y2="124.30" stroke="#444" stroke-width="0.75"/>
<line x1="226.29" y1="122.00" x2="226.29" y2="124.30" stroke="#444" stroke-width="0.75"/>
<line x1="131.50" y1="120.80" x2="129.20" y2="120.80" stroke="#444" stroke-width="0.75"/>
<line x1="131.50" y1="118.30" x2="129.20" y2="118.30" stroke="#444" stroke-width="0.75"/>
<line x1="131.50" y1="115.80" x2="129.20" y2="115.80" stroke="#444" stroke-width="0.75"/>
<line x1="131.50" y1="113.30" x2="129.20" y2="113.30" stroke="#444" stroke-width="0.75"/>
<line x1="131.50" y1="110.80" x2="129.20" y2="110.80" stroke="#444" stroke-width="0.75"/>
<line x1="131.50" y1="108.30" x2="129.20" y2="108.30" stroke="#444" stroke-width="0.75"/>
<line x1="131.50" y1="106.00" x2="129.20" y2="106.00" stroke="#444" stroke-width="0.75"/>
<line x1="131.50" y1="98.93" x2="129.20" y2="98.93" stroke="#444" stroke-width="0.75"/>
<line x1="131.50" y1="94.79" x2="129.20" y2="94.79" stroke="#444" stroke-width="0.75"/>
<line x1="131.50" y1="91.85" x2="129.20" y2="91.85" stroke="#444" stroke-width="0.75"/>
<line x1="131.50" y1="89.57" x2="129.20" y2="89.57" stroke="#444" stroke-width="0.75"/>
<line x1="131.50" y1="87.71" x2="129.20" y2="87.71" stroke="#444" stroke-width="0.75"/>
<line x1="131.50" y1="86.14" x2="129.20" y2="86.14" stroke="#444" stroke-width="0.75"/>
<line x1="131.50" y1="84.78" x2="129.20" y2="84.78" stroke="#444" stroke-width="0.75"/>
<line x1="131.50" y1="83.58" x2="129.20" y2="83.58" stroke="#444" stroke-width="0.75"/>
<line x1="131.50" y1="82.50" x2="129.20" y2="82.50" stroke="#444" stroke-width="0.75"/>
<line x1="131.50" y1="75.43" x2="129.20" y2="75.43" stroke="#444" stroke-width="0.75"/>
<line x1="131.50" y1="71.29" x2="129.20" y2="71.29" stroke="#444" stroke-width="0.75"/>
<line x1="131.50" y1="68.35" x2="129.20" y2="68.35" stroke="#444" stroke-width="0.75"/>
<line x1="131.50" y1="66.07" x2="129.20" y2="66.07" stroke="#444" stroke-width="0.75"/>
<line x1="131.50" y1="64.21" x2="129.20" y2="64.21" stroke="#444" stroke-width="0.75"/>
<line x1="131.50" y1="62.64" x2="129.20" y2="62.64" stroke="#444" stroke-width="0.75"/>
<line x1="131.50" y1="61.28" x2="129.20" y2="61.28" stroke="#444" stroke-width="0.75"/>
<line x1="131.50" y1="60.08" x2="129.20" y2="60.08" stroke="#444" stroke-width="0.75"/>
<line x1="131.50" y1="59.00" x2="129.20" y2="59.00" stroke="#444" stroke-width="0.75"/>
<line x1="131.50" y1="51.93" x2="129.20" y2="51.93" stroke="#444" stroke-width="0.75"/>
<line x1="131.50" y1="47.79" x2="129.20" y2="47.79" stroke="#444" stroke-width="0.75"/>
<line x1="131.50" y1="44.85" x2="129.20" y2="44.85" stroke="#444" stroke-width="0.75"/>
<line x1="131.50" y1="42.57" x2="129.20" y2="42.57" stroke="#444" stroke-width="0.75"/>
<line x1="131.50" y1="40.71" x2="129.20" y2="40.71" stroke="#444" stroke-width="0.75"/>
<line x1="131.50" y1="39.14" x2="129.20" y2="39.14" stroke="#444" stroke-width="0.75"/>
<line x1="131.50" y1="37.78" x2="129.20" y2="37.78" stroke="#444" stroke-width="0.75"/>
<line x1="131.50" y1="36.58" x2="129.20" y2="36.58" stroke="#444" stroke-width="0.75"/>
<line x1="131.50" y1="35.50" x2="129.20" y2="35.50" stroke="#444" stroke-width="0.75"/>
<line x1="131.50" y1="28.43" x2="129.20" y2="28.43" stroke="#444" stroke-width="0.75"/>
<rect x="245.70" y="24.50" width="97.80" height="97.90" fill="none" stroke="#555" stroke-width="1"/>
<line x1="293.00" y1="24.50" x2="293.00" y2="122.40" stroke="#8a84d0" stroke-width="1.5"/>
<line x1="293.00" y1="88.00" x2="343.50" y2="88.00" stroke="#8a84d0" stroke-width="1.5"/>
<line x1="246.90" y1="122.40" x2="246.90" y2="124.70" stroke="#444" stroke-width="0.75"/>
<line x1="249.35" y1="122.40" x2="249.35" y2="124.70" stroke="#444" stroke-width="0.75"/>
<line x1="251.80" y1="122.40" x2="251.80" y2="124.70" stroke="#444" stroke-width="0.75"/>
<line x1="254.25" y1="122.40" x2="254.25" y2="124.70" stroke="#444" stroke-width="0.75"/>
<line x1="256.70" y1="122.40" x2="256.70" y2="124.70" stroke="#444" stroke-width="0.75"/>
<line x1="259.15" y1="122.40" x2="259.15" y2="124.70" stroke="#444" stroke-width="0.75"/>
<line x1="261.60" y1="122.40" x2="261.60" y2="124.70" stroke="#444" stroke-width="0.75"/>
<line x1="264.05" y1="122.40" x2="264.05" y2="124.70" stroke="#444" stroke-width="0.75"/>
<line x1="266.50" y1="122.40" x2="266.50" y2="124.70" stroke="#444" stroke-width="0.75"/>
<line x1="268.95" y1="122.40" x2="268.95" y2="124.70" stroke="#444" stroke-width="0.75"/>
<line x1="271.40" y1="122.40" x2="271.40" y2="124.70" stroke="#444" stroke-width="0.75"/>
<line x1="273.85" y1="122.40" x2="273.85" y2="124.70" stroke="#444" stroke-width="0.75"/>
<line x1="275.20" y1="122.40" x2="275.20" y2="124.70" stroke="#444" stroke-width="0.75"/>
<line x1="282.27" y1="122.40" x2="282.27" y2="124.70" stroke="#444" stroke-width="0.75"/>
<line x1="286.41" y1="122.40" x2="286.41" y2="124.70" stroke="#444" stroke-width="0.75"/>
<line x1="289.35" y1="122.40" x2="289.35" y2="124.70" stroke="#444" stroke-width="0.75"/>
<line x1="291.63" y1="122.40" x2="291.63" y2="124.70" stroke="#444" stroke-width="0.75"/>
<line x1="293.49" y1="122.40" x2="293.49" y2="124.70" stroke="#444" stroke-width="0.75"/>
<line x1="295.06" y1="122.40" x2="295.06" y2="124.70" stroke="#444" stroke-width="0.75"/>
<line x1="296.42" y1="122.40" x2="296.42" y2="124.70" stroke="#444" stroke-width="0.75"/>
<line x1="297.62" y1="122.40" x2="297.62" y2="124.70" stroke="#444" stroke-width="0.75"/>
<line x1="298.70" y1="122.40" x2="298.70" y2="124.70" stroke="#444" stroke-width="0.75"/>
<line x1="305.77" y1="122.40" x2="305.77" y2="124.70" stroke="#444" stroke-width="0.75"/>
<line x1="309.91" y1="122.40" x2="309.91" y2="124.70" stroke="#444" stroke-width="0.75"/>
<line x1="312.85" y1="122.40" x2="312.85" y2="124.70" stroke="#444" stroke-width="0.75"/>
<line x1="315.13" y1="122.40" x2="315.13" y2="124.70" stroke="#444" stroke-width="0.75"/>
<line x1="316.99" y1="122.40" x2="316.99" y2="124.70" stroke="#444" stroke-width="0.75"/>
<line x1="318.56" y1="122.40" x2="318.56" y2="124.70" stroke="#444" stroke-width="0.75"/>
<line x1="319.92" y1="122.40" x2="319.92" y2="124.70" stroke="#444" stroke-width="0.75"/>
<line x1="321.12" y1="122.40" x2="321.12" y2="124.70" stroke="#444" stroke-width="0.75"/>
<line x1="322.20" y1="122.40" x2="322.20" y2="124.70" stroke="#444" stroke-width="0.75"/>
<line x1="329.27" y1="122.40" x2="329.27" y2="124.70" stroke="#444" stroke-width="0.75"/>
<line x1="333.41" y1="122.40" x2="333.41" y2="124.70" stroke="#444" stroke-width="0.75"/>
<line x1="336.35" y1="122.40" x2="336.35" y2="124.70" stroke="#444" stroke-width="0.75"/>
<line x1="338.63" y1="122.40" x2="338.63" y2="124.70" stroke="#444" stroke-width="0.75"/>
<line x1="340.49" y1="122.40" x2="340.49" y2="124.70" stroke="#444" stroke-width="0.75"/>
<line x1="245.70" y1="121.20" x2="243.40" y2="121.20" stroke="#444" stroke-width="0.75"/>
<line x1="245.70" y1="118.70" x2="243.40" y2="118.70" stroke="#444" stroke-width="0.75"/>
<line x1="245.70" y1="116.20" x2="243.40" y2="116.20" stroke="#444" stroke-width="0.75"/>
<line x1="245.70" y1="113.70" x2="243.40" y2="113.70" stroke="#444" stroke-width="0.75"/>
<line x1="245.70" y1="111.20" x2="243.40" y2="111.20" stroke="#444" stroke-width="0.75"/>
<line x1="245.70" y1="108.70" x2="243.40" y2="108.70" stroke="#444" stroke-width="0.75"/>
<line x1="245.70" y1="106.40" x2="243.40" y2="106.40" stroke="#444" stroke-width="0.75"/>
<line x1="245.70" y1="99.33" x2="243.40" y2="99.33" stroke="#444" stroke-width="0.75"/>
<line x1="245.70" y1="95.19" x2="243.40" y2="95.19" stroke="#444" stroke-width="0.75"/>
<line x1="245.70" y1="92.25" x2="243.40" y2="92.25" stroke="#444" stroke-width="0.75"/>
<line x1="245.70" y1="89.97" x2="243.40" y2="89.97" stroke="#444" stroke-width="0.75"/>
<line x1="245.70" y1="88.11" x2="243.40" y2="88.11" stroke="#444" stroke-width="0.75"/>
<line x1="245.70" y1="86.54" x2="243.40" y2="86.54" stroke="#444" stroke-width="0.75"/>
<line x1="245.70" y1="85.18" x2="243.40" y2="85.18" stroke="#444" stroke-width="0.75"/>
<line x1="245.70" y1="83.98" x2="243.40" y2="83.98" stroke="#444" stroke-width="0.75"/>
<line x1="245.70" y1="82.90" x2="243.40" y2="82.90" stroke="#444" stroke-width="0.75"/>
<line x1="245.70" y1="75.83" x2="243.40" y2="75.83" stroke="#444" stroke-width="0.75"/>
<line x1="245.70" y1="71.69" x2="243.40" y2="71.69" stroke="#444" stroke-width="0.75"/>
<line x1="245.70" y1="68.75" x2="243.40" y2="68.75" stroke="#444" stroke-width="0.75"/>
<line x1="245.70" y1="66.47" x2="243.40" y2="66.47" stroke="#444" stroke-width="0.75"/>
<line x1="245.70" y1="64.61" x2="243.40" y2="64.61" stroke="#444" stroke-width="0.75"/>
<line x1="245.70" y1="63.04" x2="243.40" y2="63.04" stroke="#444" stroke-width="0.75"/>
<line x1="245.70" y1="61.68" x2="243.40" y2="61.68" stroke="#444" stroke-width="0.75"/>
<line x1="245.70" y1="60.48" x2="243.40" y2="60.48" stroke="#444" stroke-width="0.75"/>
<line x1="245.70" y1="59.40" x2="243.40" y2="59.40" stroke="#444" stroke-width="0.75"/>
<line x1="245.70" y1="52.33" x2="243.40" y2="52.33" stroke="#444" stroke-width="0.75"/>
<line x1="245.70" y1="48.19" x2="243.40" y2="48.19" stroke="#444" stroke-width="0.75"/>
<line x1="245.70" y1="45.25" x2="243.40" y2="45.25" stroke="#444" stroke-width="0.75"/>
<line x1="245.70" y1="42.97" x2="243.40" y2="42.97" stroke="#444" stroke-width="0.75"/>
<line x1="245.70" y1="41.11" x2="243.40" y2="41.11" stroke="#444" stroke-width="0.75"/>
<line x1="245.70" y1="39.54" x2="243.40" y2="39.54" stroke="#444" stroke-width="0.75"/>
<line x1="245.70" y1="38.18" x2="243.40" y2="38.18" stroke="#444" stroke-width="0.75"/>
<line x1="245.70" y1="36.98" x2="243.40" y2="36.98" stroke="#444" stroke-width="0.75"/>
<line x1="245.70" y1="35.90" x2="243.40" y2="35.90" stroke="#444" stroke-width="0.75"/>
<line x1="245.70" y1="28.83" x2="243.40" y2="28.83" stroke="#444" stroke-width="0.75"/>
<line x1="3.30" y1="34.00" x2="3.30" y2="81.60" stroke="#000" stroke-width="1.6"/>
<path d="M3.3 27.2 L0.6 35.5 L6.0 35.5 Z" fill="#000"/>
<text x="7.40" y="123.00" font-size="9.2" text-anchor="start" font-weight="bold" fill="#000" transform="rotate(-90 7.4 123.0)">Perforin</text>
<text x="11.50" y="135.60" font-size="9.2" text-anchor="start" font-weight="bold" fill="#000">IFN</text>
<line x1="27.40" y1="132.10" x2="32.40" y2="132.10" stroke="#333" stroke-width="1.4"/>
<path d="M34.4 130.3 Q36.2 129.6 36.9 133.2 M39.2 129.7 L36.9 133.2 L36.7 136.3" fill="none" stroke="#000" stroke-width="1.45"/>
<line x1="41.30" y1="131.70" x2="343.00" y2="131.70" stroke="#000" stroke-width="1.7"/>
<path d="M348.4 131.7 L342.2 129.0 L342.2 134.4 Z" fill="#000"/>
<line x1="397.10" y1="23.90" x2="397.10" y2="138.80" stroke="#000" stroke-width="1.3"/>
<line x1="396.50" y1="138.20" x2="510.40" y2="138.20" stroke="#000" stroke-width="1.3"/>
<line x1="393.70" y1="138.20" x2="397.10" y2="138.20" stroke="#000" stroke-width="1.1"/>
<text x="393.40" y="140.10" font-size="6.1" text-anchor="end" font-weight="bold" fill="#000">0</text>
<line x1="393.70" y1="115.46" x2="397.10" y2="115.46" stroke="#000" stroke-width="1.1"/>
<text x="393.40" y="117.36" font-size="6.1" text-anchor="end" font-weight="bold" fill="#000">20</text>
<line x1="393.70" y1="92.72" x2="397.10" y2="92.72" stroke="#000" stroke-width="1.1"/>
<text x="393.40" y="94.62" font-size="6.1" text-anchor="end" font-weight="bold" fill="#000">40</text>
<line x1="393.70" y1="69.98" x2="397.10" y2="69.98" stroke="#000" stroke-width="1.1"/>
<text x="393.40" y="71.88" font-size="6.1" text-anchor="end" font-weight="bold" fill="#000">60</text>
<line x1="393.70" y1="47.24" x2="397.10" y2="47.24" stroke="#000" stroke-width="1.1"/>
<text x="393.40" y="49.14" font-size="6.1" text-anchor="end" font-weight="bold" fill="#000">80</text>
<line x1="393.70" y1="24.50" x2="397.10" y2="24.50" stroke="#000" stroke-width="1.1"/>
<text x="393.40" y="26.40" font-size="6.1" text-anchor="end" font-weight="bold" fill="#000">100</text>
<rect x="406.60" y="110.40" width="37.90" height="27.80" fill="#860040" stroke="#000" stroke-width="1.1"/>
<rect x="463.40" y="111.20" width="37.90" height="27.00" fill="#666" stroke="#000" stroke-width="1.1"/>
<line x1="425.50" y1="110.40" x2="425.50" y2="99.60" stroke="#000" stroke-width="1.1"/>
<line x1="415.90" y1="99.60" x2="435.10" y2="99.60" stroke="#000" stroke-width="1.1"/>
<line x1="482.30" y1="111.20" x2="482.30" y2="62.50" stroke="#000" stroke-width="1.1"/>
<line x1="471.90" y1="62.50" x2="492.10" y2="62.50" stroke="#000" stroke-width="1.1"/>
<text x="425.40" y="148.80" font-size="7.3" text-anchor="middle" font-weight="bold" fill="#000">VL &lt;100</text>
<text x="482.80" y="148.80" font-size="7.3" text-anchor="middle" font-weight="bold" fill="#000">VL ≥100</text>
<text x="449.50" y="11.80" font-size="6.8" text-anchor="middle" font-weight="bold" fill="#000">p = NS</text>
<path d="M424.3 19 V15.6 H480.6 V19" fill="none" stroke="#000" stroke-width="1.1"/>
<text x="370.90" y="160.40" font-size="7.38" text-anchor="start" font-weight="bold" fill="#000" transform="rotate(-90 370.9 160.4)">Percentage perforin co-expression in the total</text>
<text x="378.90" y="151.50" font-size="7.45" text-anchor="start" font-weight="bold" fill="#000" transform="rotate(-90 378.9 151.5)">HIV-2 Gag-specific CD8+ T-cell response</text>
<line x1="41.40" y1="191.10" x2="41.40" y2="300.30" stroke="#000" stroke-width="1.3"/>
<line x1="40.90" y1="299.80" x2="192.60" y2="299.80" stroke="#000" stroke-width="1.3"/>
<line x1="38.40" y1="299.80" x2="41.40" y2="299.80" stroke="#000" stroke-width="1.1"/>
<text x="37.90" y="302.00" font-size="6.3" text-anchor="end" font-weight="bold" fill="#000">0</text>
<line x1="38.40" y1="278.16" x2="41.40" y2="278.16" stroke="#000" stroke-width="1.1"/>
<text x="37.90" y="280.36" font-size="6.3" text-anchor="end" font-weight="bold" fill="#000">20</text>
<line x1="38.40" y1="256.52" x2="41.40" y2="256.52" stroke="#000" stroke-width="1.1"/>
<text x="37.90" y="258.72" font-size="6.3" text-anchor="end" font-weight="bold" fill="#000">40</text>
<line x1="38.40" y1="234.88" x2="41.40" y2="234.88" stroke="#000" stroke-width="1.1"/>
<text x="37.90" y="237.08" font-size="6.3" text-anchor="end" font-weight="bold" fill="#000">60</text>
<line x1="38.40" y1="213.24" x2="41.40" y2="213.24" stroke="#000" stroke-width="1.1"/>
<text x="37.90" y="215.44" font-size="6.3" text-anchor="end" font-weight="bold" fill="#000">80</text>
<line x1="38.40" y1="191.60" x2="41.40" y2="191.60" stroke="#000" stroke-width="1.1"/>
<text x="37.90" y="193.80" font-size="6.3" text-anchor="end" font-weight="bold" fill="#000">100</text>
<text x="61.50" y="309.20" font-size="7.4" text-anchor="middle" font-weight="bold" fill="#000">Perforin</text>
<text x="118.90" y="309.20" font-size="7.4" text-anchor="middle" font-weight="bold" fill="#000">Granzyme B</text>
<text x="171.00" y="309.20" font-size="7.4" text-anchor="middle" font-weight="bold" fill="#000">T-bet</text>
<path d="M51 185.8 V183.3 H71 V185.8" fill="none" stroke="#000" stroke-width="1"/>
<text x="61.00" y="179.20" font-size="6.3" text-anchor="middle" font-weight="bold" fill="#000">p = 0.02</text>
<path d="M103.9 185.9 V183.4 H123.2 V185.9" fill="none" stroke="#000" stroke-width="1"/>
<text x="113.55" y="179.20" font-size="6.3" text-anchor="middle" font-weight="bold" fill="#000">p = 0.006</text>
<path d="M160.7 185.9 V183.4 H181 V185.9" fill="none" stroke="#000" stroke-width="1"/>
<text x="170.85" y="179.20" font-size="6.5" text-anchor="middle" font-weight="bold" fill="#000">p = NS</text>
<text x="16.90" y="244.10" font-size="7.6" text-anchor="middle" font-weight="bold" fill="#000" transform="rotate(-90 16.9 244.1)">% total CD8+ T-cells or</text>
<text x="24.90" y="244.40" font-size="7.6" text-anchor="middle" font-weight="bold" fill="#000" transform="rotate(-90 24.9 244.4)">virus-specific CD8+ T-cells</text>
<circle cx="203" cy="201.8" r="1.8" fill="#000"/>
<circle cx="203" cy="211.1" r="1.5" fill="none" stroke="#000" stroke-width="0.9"/>
<text x="212.60" y="204.60" font-size="7.7" text-anchor="start" font-weight="bold" fill="#000">Total CD8</text>
<text x="212.60" y="213.90" font-size="7.7" text-anchor="start" font-weight="bold" fill="#000">HIV-2 specific</text>
<line x1="299.20" y1="194.40" x2="299.20" y2="299.80" stroke="#000" stroke-width="1.3"/>
<line x1="298.70" y1="299.30" x2="520.00" y2="299.30" stroke="#000" stroke-width="1.3"/>
<line x1="296.20" y1="299.30" x2="299.20" y2="299.30" stroke="#000" stroke-width="1.1"/>
<text x="295.70" y="301.50" font-size="6.3" text-anchor="end" font-weight="bold" fill="#000">0</text>
<line x1="296.20" y1="278.42" x2="299.20" y2="278.42" stroke="#000" stroke-width="1.1"/>
<text x="295.70" y="280.62" font-size="6.3" text-anchor="end" font-weight="bold" fill="#000">20</text>
<line x1="296.20" y1="257.54" x2="299.20" y2="257.54" stroke="#000" stroke-width="1.1"/>
<text x="295.70" y="259.74" font-size="6.3" text-anchor="end" font-weight="bold" fill="#000">40</text>
<line x1="296.20" y1="236.66" x2="299.20" y2="236.66" stroke="#000" stroke-width="1.1"/>
<text x="295.70" y="238.86" font-size="6.3" text-anchor="end" font-weight="bold" fill="#000">60</text>
<line x1="296.20" y1="215.78" x2="299.20" y2="215.78" stroke="#000" stroke-width="1.1"/>
<text x="295.70" y="217.98" font-size="6.3" text-anchor="end" font-weight="bold" fill="#000">80</text>
<line x1="296.20" y1="194.90" x2="299.20" y2="194.90" stroke="#000" stroke-width="1.1"/>
<text x="295.70" y="197.10" font-size="6.3" text-anchor="end" font-weight="bold" fill="#000">100</text>
<line x1="312.70" y1="299.30" x2="312.70" y2="301.90" stroke="#000" stroke-width="1.1"/>
<text x="313.50" y="308.20" font-size="6.7" text-anchor="end" font-weight="bold" fill="#000" transform="rotate(-45 313.5 308.2)">HIV-2</text>
<line x1="333.20" y1="299.30" x2="333.20" y2="301.90" stroke="#000" stroke-width="1.1"/>
<text x="334.00" y="308.20" font-size="6.7" text-anchor="end" font-weight="bold" fill="#000" transform="rotate(-45 334.0 308.2)">CMV</text>
<line x1="354.70" y1="299.30" x2="354.70" y2="301.90" stroke="#000" stroke-width="1.1"/>
<text x="355.50" y="308.20" font-size="6.7" text-anchor="end" font-weight="bold" fill="#000" transform="rotate(-45 355.5 308.2)">EBV</text>
<line x1="388.40" y1="299.30" x2="388.40" y2="301.90" stroke="#000" stroke-width="1.1"/>
<text x="389.20" y="308.20" font-size="6.7" text-anchor="end" font-weight="bold" fill="#000" transform="rotate(-45 389.2 308.2)">HIV-2</text>
<line x1="409.40" y1="299.30" x2="409.40" y2="301.90" stroke="#000" stroke-width="1.1"/>
<text x="410.20" y="308.20" font-size="6.7" text-anchor="end" font-weight="bold" fill="#000" transform="rotate(-45 410.2 308.2)">CMV</text>
<line x1="430.80" y1="299.30" x2="430.80" y2="301.90" stroke="#000" stroke-width="1.1"/>
<text x="431.60" y="308.20" font-size="6.7" text-anchor="end" font-weight="bold" fill="#000" transform="rotate(-45 431.6 308.2)">EBV</text>
<line x1="464.80" y1="299.30" x2="464.80" y2="301.90" stroke="#000" stroke-width="1.1"/>
<text x="465.60" y="308.20" font-size="6.7" text-anchor="end" font-weight="bold" fill="#000" transform="rotate(-45 465.6 308.2)">HIV-2</text>
<line x1="485.70" y1="299.30" x2="485.70" y2="301.90" stroke="#000" stroke-width="1.1"/>
<text x="486.50" y="308.20" font-size="6.7" text-anchor="end" font-weight="bold" fill="#000" transform="rotate(-45 486.5 308.2)">CMV</text>
<line x1="506.60" y1="299.30" x2="506.60" y2="301.90" stroke="#000" stroke-width="1.1"/>
<text x="507.40" y="308.20" font-size="6.7" text-anchor="end" font-weight="bold" fill="#000" transform="rotate(-45 507.40000000000003 308.2)">EBV</text>
<text x="331.30" y="332.40" font-size="7.6" text-anchor="middle" font-weight="bold" fill="#000">Perforin</text>
<text x="411.00" y="332.40" font-size="7.6" text-anchor="middle" font-weight="bold" fill="#000">Granzyme B</text>
<text x="483.60" y="332.40" font-size="7.6" text-anchor="middle" font-weight="bold" fill="#000">T-bet</text>
<text x="275.60" y="243.80" font-size="7.95" text-anchor="middle" font-weight="bold" fill="#000" transform="rotate(-90 275.6 243.8)">%expression on virus specific</text>
<text x="282.70" y="245.50" font-size="7.8" text-anchor="middle" font-weight="bold" fill="#000" transform="rotate(-90 282.7 245.5)">CD8+ T-cells</text>
<path d="M383.7 188.2 V185.7 H410.6 V188.2" fill="none" stroke="#000" stroke-width="1"/>
<text x="397.15" y="186.00" font-size="7" text-anchor="middle" font-weight="bold" fill="#000">**</text>
<path d="M408.7 179.9 V177.4 H431.4 V179.9" fill="none" stroke="#000" stroke-width="1"/>
<text x="420.05" y="177.80" font-size="7" text-anchor="middle" font-weight="bold" fill="#000">**</text>
<path d="M463.7 188.9 V186.4 H487.5 V188.9" fill="none" stroke="#000" stroke-width="1"/>
<text x="475.60" y="186.40" font-size="7" text-anchor="middle" font-weight="bold" fill="#000">*</text>
<path d="M486.4 180.7 V178.2 H508.1 V180.7" fill="none" stroke="#000" stroke-width="1"/>
<text x="497.25" y="177.80" font-size="7" text-anchor="middle" font-weight="bold" fill="#000">**</text>
<circle cx="50.1" cy="253.2" r="1.85" fill="#000"/>
<circle cx="55.0" cy="252.3" r="1.85" fill="#000"/>
<circle cx="55.0" cy="257.9" r="1.85" fill="#cc0c2c"/>
<circle cx="52.3" cy="265.6" r="1.85" fill="#cc0c2c"/>
<circle cx="47.8" cy="266.5" r="1.85" fill="#000"/>
<circle cx="50.5" cy="269.2" r="1.85" fill="#000"/>
<circle cx="55.0" cy="270.9" r="1.85" fill="#cc0c2c"/>
<circle cx="47.8" cy="272.2" r="1.85" fill="#000"/>
<circle cx="52.8" cy="272.4" r="1.85" fill="#000"/>
<circle cx="52.6" cy="276.5" r="1.85" fill="#000"/>
<circle cx="57.7" cy="276.5" r="1.85" fill="#000"/>
<circle cx="47.8" cy="286.0" r="1.85" fill="#000"/>
<circle cx="52.6" cy="286.0" r="1.85" fill="#6a0f22"/>
<circle cx="57.3" cy="286.4" r="1.85" fill="#000"/>
<circle cx="52.8" cy="289.4" r="1.85" fill="#cc0c2c"/>
<circle cx="49.2" cy="291.2" r="1.85" fill="#000"/>
<circle cx="57.3" cy="291.0" r="1.85" fill="#000"/>
<circle cx="47.8" cy="293.6" r="1.85" fill="#000"/>
<circle cx="52.6" cy="293.8" r="1.85" fill="#000"/>
<circle cx="55.0" cy="294.2" r="1.85" fill="#000"/>
<circle cx="70.6" cy="251.9" r="1.55" fill="#fff" stroke="#000" stroke-width="1.2"/>
<circle cx="70.6" cy="260.4" r="1.55" fill="#fff" stroke="#000" stroke-width="1.2"/>
<circle cx="65.6" cy="267.2" r="1.55" fill="#fff" stroke="#000" stroke-width="1.2"/>
<circle cx="70.6" cy="269.6" r="1.55" fill="#fff" stroke="#000" stroke-width="1.2"/>
<circle cx="75.3" cy="267.5" r="1.55" fill="#fff" stroke="#000" stroke-width="1.2"/>
<circle cx="66.7" cy="275.2" r="1.55" fill="#fff" stroke="#000" stroke-width="1.2"/>
<circle cx="69.9" cy="274.7" r="1.55" fill="#fff" stroke="#000" stroke-width="1.2"/>
<circle cx="69.0" cy="277.9" r="1.55" fill="#fff" stroke="#3c0812" stroke-width="1.2"/>
<circle cx="71.7" cy="278.8" r="1.55" fill="#fff" stroke="#000" stroke-width="1.2"/>
<circle cx="73.5" cy="279.9" r="1.55" fill="#fff" stroke="#000" stroke-width="1.2"/>
<circle cx="70.8" cy="281.7" r="1.55" fill="#fff" stroke="#3c0812" stroke-width="1.2"/>
<circle cx="65.6" cy="285.5" r="1.55" fill="#fff" stroke="#000" stroke-width="1.2"/>
<circle cx="68.5" cy="286.0" r="1.55" fill="#fff" stroke="#3c0812" stroke-width="1.2"/>
<circle cx="72.6" cy="286.4" r="1.55" fill="#fff" stroke="#000" stroke-width="1.2"/>
<circle cx="75.7" cy="286.9" r="1.55" fill="#fff" stroke="#000" stroke-width="1.2"/>
<circle cx="66.3" cy="289.6" r="1.55" fill="#fff" stroke="#3c0812" stroke-width="1.2"/>
<circle cx="70.8" cy="289.1" r="1.55" fill="#fff" stroke="#000" stroke-width="1.2"/>
<circle cx="73.5" cy="290.0" r="1.55" fill="#fff" stroke="#3c0812" stroke-width="1.2"/>
<circle cx="67.2" cy="294.0" r="1.55" fill="#fff" stroke="#3c0812" stroke-width="1.2"/>
<circle cx="70.8" cy="293.6" r="1.55" fill="#fff" stroke="#000" stroke-width="1.2"/>
<circle cx="73.9" cy="294.5" r="1.55" fill="#fff" stroke="#3c0812" stroke-width="1.2"/>
<circle cx="66.3" cy="296.8" r="1.55" fill="#fff" stroke="#000" stroke-width="1.2"/>
<circle cx="69.0" cy="297.0" r="1.55" fill="#fff" stroke="#3c0812" stroke-width="1.2"/>
<circle cx="72.0" cy="297.2" r="1.55" fill="#fff" stroke="#000" stroke-width="1.2"/>
<circle cx="75.0" cy="296.5" r="1.55" fill="#fff" stroke="#000" stroke-width="1.2"/>
<circle cx="101.6" cy="218.9" r="1.85" fill="#cc0c2c"/>
<circle cx="106.5" cy="222.0" r="1.85" fill="#000"/>
<circle cx="111.3" cy="221.4" r="1.85" fill="#000"/>
<circle cx="111.3" cy="223.8" r="1.85" fill="#cc0c2c"/>
<circle cx="101.6" cy="224.4" r="1.85" fill="#000"/>
<circle cx="106.5" cy="226.9" r="1.85" fill="#000"/>
<circle cx="101.6" cy="236.5" r="1.85" fill="#000"/>
<circle cx="104.3" cy="235.8" r="1.85" fill="#000"/>
<circle cx="108.8" cy="235.8" r="1.85" fill="#000"/>
<circle cx="106.5" cy="238.5" r="1.85" fill="#000"/>
<circle cx="111.3" cy="238.5" r="1.85" fill="#cc0c2c"/>
<circle cx="101.6" cy="242.0" r="1.85" fill="#6a0f22"/>
<circle cx="111.3" cy="241.2" r="1.85" fill="#000"/>
<circle cx="106.5" cy="245.2" r="1.85" fill="#000"/>
<circle cx="108.8" cy="248.7" r="1.85" fill="#cc0c2c"/>
<circle cx="103.8" cy="250.7" r="1.85" fill="#000"/>
<circle cx="103.8" cy="252.5" r="1.85" fill="#000"/>
<circle cx="108.8" cy="251.8" r="1.85" fill="#000"/>
<circle cx="106.5" cy="258.8" r="1.85" fill="#000"/>
<circle cx="103.8" cy="264.6" r="1.85" fill="#000"/>
<circle cx="108.8" cy="264.6" r="1.85" fill="#000"/>
<circle cx="106.5" cy="269.5" r="1.85" fill="#000"/>
<circle cx="101.6" cy="273.3" r="1.85" fill="#000"/>
<circle cx="106.5" cy="275.1" r="1.85" fill="#000"/>
<circle cx="111.3" cy="274.0" r="1.85" fill="#000"/>
<circle cx="124.5" cy="206.7" r="1.55" fill="#6a3040" stroke="#000" stroke-width="1.2"/>
<circle cx="121.8" cy="211.7" r="1.55" fill="#fff" stroke="#000" stroke-width="1.2"/>
<circle cx="126.9" cy="213.9" r="1.55" fill="#fff" stroke="#000" stroke-width="1.2"/>
<circle cx="124.5" cy="219.3" r="1.55" fill="#fff" stroke="#000" stroke-width="1.2"/>
<circle cx="119.5" cy="221.1" r="1.55" fill="#fff" stroke="#000" stroke-width="1.2"/>
<circle cx="122.2" cy="222.9" r="1.55" fill="#fff" stroke="#000" stroke-width="1.2"/>
<circle cx="124.9" cy="222.4" r="1.55" fill="#fff" stroke="#000" stroke-width="1.2"/>
<circle cx="127.2" cy="224.2" r="1.55" fill="#fff" stroke="#000" stroke-width="1.2"/>
<circle cx="119.5" cy="229.3" r="1.55" fill="#fff" stroke="#000" stroke-width="1.2"/>
<circle cx="122.2" cy="229.3" r="1.55" fill="#fff" stroke="#000" stroke-width="1.2"/>
<circle cx="124.9" cy="229.0" r="1.55" fill="#fff" stroke="#000" stroke-width="1.2"/>
<circle cx="129.0" cy="229.3" r="1.55" fill="#fff" stroke="#000" stroke-width="1.2"/>
<circle cx="119.5" cy="232.5" r="1.55" fill="#fff" stroke="#000" stroke-width="1.2"/>
<circle cx="122.2" cy="233.2" r="1.55" fill="#fff" stroke="#000" stroke-width="1.2"/>
<circle cx="124.9" cy="233.5" r="1.55" fill="#fff" stroke="#000" stroke-width="1.2"/>
<circle cx="129.0" cy="231.8" r="1.55" fill="#fff" stroke="#000" stroke-width="1.2"/>
<circle cx="122.0" cy="238.5" r="1.55" fill="#fff" stroke="#3c0812" stroke-width="1.2"/>
<circle cx="124.9" cy="238.5" r="1.55" fill="#fff" stroke="#000" stroke-width="1.2"/>
<circle cx="127.0" cy="239.0" r="1.55" fill="#fff" stroke="#3c0812" stroke-width="1.2"/>
<circle cx="124.3" cy="247.6" r="1.55" fill="#fff" stroke="#000" stroke-width="1.2"/>
<circle cx="129.0" cy="254.1" r="1.55" fill="#fff" stroke="#000" stroke-width="1.2"/>
<circle cx="119.5" cy="255.9" r="1.55" fill="#6a3040" stroke="#000" stroke-width="1.2"/>
<circle cx="124.0" cy="258.3" r="1.55" fill="#fff" stroke="#000" stroke-width="1.2"/>
<circle cx="126.7" cy="261.9" r="1.55" fill="#fff" stroke="#000" stroke-width="1.2"/>
<circle cx="121.8" cy="264.2" r="1.55" fill="#fff" stroke="#000" stroke-width="1.2"/>
<circle cx="155.6" cy="216.6" r="1.85" fill="#cc0c2c"/>
<circle cx="160.5" cy="220.2" r="1.85" fill="#000"/>
<circle cx="165.0" cy="219.3" r="1.85" fill="#000"/>
<circle cx="157.8" cy="223.6" r="1.85" fill="#000"/>
<circle cx="162.8" cy="224.1" r="1.85" fill="#000"/>
<circle cx="157.8" cy="226.6" r="1.85" fill="#000"/>
<circle cx="162.8" cy="226.8" r="1.85" fill="#6a0f22"/>
<circle cx="155.6" cy="235.6" r="1.85" fill="#000"/>
<circle cx="157.8" cy="234.7" r="1.85" fill="#000"/>
<circle cx="162.8" cy="234.9" r="1.85" fill="#cc0c2c"/>
<circle cx="160.5" cy="238.5" r="1.85" fill="#000"/>
<circle cx="165.5" cy="237.6" r="1.85" fill="#000"/>
<circle cx="157.8" cy="243.9" r="1.85" fill="#000"/>
<circle cx="157.8" cy="247.0" r="1.85" fill="#cc0c2c"/>
<circle cx="162.8" cy="246.6" r="1.85" fill="#cc0c2c"/>
<circle cx="162.8" cy="249.3" r="1.85" fill="#6a0f22"/>
<circle cx="155.6" cy="250.6" r="1.85" fill="#000"/>
<circle cx="160.5" cy="252.2" r="1.85" fill="#000"/>
<circle cx="165.5" cy="250.6" r="1.85" fill="#000"/>
<circle cx="155.9" cy="258.5" r="1.85" fill="#000"/>
<circle cx="165.3" cy="258.5" r="1.85" fill="#000"/>
<circle cx="160.6" cy="261.9" r="1.85" fill="#000"/>
<circle cx="160.6" cy="267.7" r="1.85" fill="#cc0c2c"/>
<circle cx="182.1" cy="205.4" r="1.55" fill="#fff" stroke="#000" stroke-width="1.2"/>
<circle cx="177.2" cy="222.0" r="1.55" fill="#6a3040" stroke="#000" stroke-width="1.2"/>
<circle cx="182.1" cy="225.3" r="1.55" fill="#fff" stroke="#000" stroke-width="1.2"/>
<circle cx="186.6" cy="223.8" r="1.55" fill="#fff" stroke="#000" stroke-width="1.2"/>
<circle cx="177.2" cy="232.0" r="1.55" fill="#fff" stroke="#000" stroke-width="1.2"/>
<circle cx="181.7" cy="232.0" r="1.55" fill="#fff" stroke="#000" stroke-width="1.2"/>
<circle cx="186.6" cy="231.3" r="1.55" fill="#fff" stroke="#3c0812" stroke-width="1.2"/>
<circle cx="186.6" cy="233.7" r="1.55" fill="#fff" stroke="#3c0812" stroke-width="1.2"/>
<circle cx="179.0" cy="237.6" r="1.55" fill="#fff" stroke="#000" stroke-width="1.2"/>
<circle cx="181.7" cy="237.1" r="1.55" fill="#fff" stroke="#000" stroke-width="1.2"/>
<circle cx="184.4" cy="238.5" r="1.55" fill="#fff" stroke="#000" stroke-width="1.2"/>
<circle cx="177.2" cy="239.8" r="1.55" fill="#fff" stroke="#3c0812" stroke-width="1.2"/>
<circle cx="179.5" cy="240.5" r="1.55" fill="#fff" stroke="#000" stroke-width="1.2"/>
<circle cx="177.6" cy="243.4" r="1.55" fill="#fff" stroke="#3c0812" stroke-width="1.2"/>
<circle cx="182.1" cy="242.0" r="1.55" fill="#fff" stroke="#000" stroke-width="1.2"/>
<circle cx="186.6" cy="244.3" r="1.55" fill="#fff" stroke="#000" stroke-width="1.2"/>
<circle cx="181.7" cy="247.5" r="1.55" fill="#fff" stroke="#000" stroke-width="1.2"/>
<circle cx="177.6" cy="253.6" r="1.55" fill="#fff" stroke="#000" stroke-width="1.2"/>
<circle cx="181.4" cy="254.6" r="1.55" fill="#fff" stroke="#000" stroke-width="1.2"/>
<circle cx="184.1" cy="255.8" r="1.55" fill="#fff" stroke="#000" stroke-width="1.2"/>
<circle cx="186.9" cy="251.3" r="1.55" fill="#fff" stroke="#000" stroke-width="1.2"/>
<circle cx="179.5" cy="259.1" r="1.55" fill="#fff" stroke="#000" stroke-width="1.2"/>
<circle cx="181.9" cy="276.6" r="1.55" fill="#6a3040" stroke="#000" stroke-width="1.2"/>
<circle cx="181.9" cy="281.5" r="1.55" fill="#6a3040" stroke="#000" stroke-width="1.2"/>
<line x1="45.60" y1="276.50" x2="59.50" y2="276.50" stroke="#000" stroke-width="1.4"/>
<line x1="63.50" y1="285.40" x2="77.50" y2="285.40" stroke="#000" stroke-width="1.4"/>
<line x1="99.30" y1="241.60" x2="113.30" y2="241.60" stroke="#000" stroke-width="1.4"/>
<line x1="117.50" y1="233.00" x2="131.00" y2="233.00" stroke="#000" stroke-width="1.4"/>
<line x1="153.30" y1="243.90" x2="167.70" y2="243.90" stroke="#000" stroke-width="1.4"/>
<line x1="175.00" y1="239.80" x2="188.90" y2="239.80" stroke="#000" stroke-width="1.4"/>
<circle cx="312.4" cy="252.5" r="1.85" fill="#cc0c2c"/>
<circle cx="312.4" cy="261.0" r="1.85" fill="#cc0c2c"/>
<circle cx="307.6" cy="267.1" r="1.85" fill="#cc0c2c"/>
<circle cx="317.3" cy="267.8" r="1.85" fill="#cc0c2c"/>
<circle cx="312.4" cy="269.6" r="1.85" fill="#cc0c2c"/>
<circle cx="307.6" cy="274.8" r="1.85" fill="#cc0c2c"/>
<circle cx="312.4" cy="275.3" r="1.85" fill="#cc0c2c"/>
<circle cx="309.9" cy="277.5" r="1.85" fill="#cc0c2c"/>
<circle cx="314.8" cy="278.4" r="1.85" fill="#cc0c2c"/>
<circle cx="312.4" cy="281.2" r="1.85" fill="#cc0c2c"/>
<circle cx="307.6" cy="284.8" r="1.85" fill="#cc0c2c"/>
<circle cx="312.4" cy="285.7" r="1.85" fill="#cc0c2c"/>
<circle cx="317.3" cy="288.0" r="1.85" fill="#cc0c2c"/>
<circle cx="307.6" cy="288.0" r="1.85" fill="#cc0c2c"/>
<circle cx="312.4" cy="290.2" r="1.85" fill="#cc0c2c"/>
<circle cx="309.9" cy="292.0" r="1.85" fill="#cc0c2c"/>
<circle cx="314.8" cy="292.9" r="1.85" fill="#cc0c2c"/>
<circle cx="317.3" cy="293.5" r="1.85" fill="#cc0c2c"/>
<circle cx="307.6" cy="294.3" r="1.85" fill="#cc0c2c"/>
<circle cx="312.4" cy="295.2" r="1.85" fill="#cc0c2c"/>
<circle cx="307.6" cy="296.8" r="1.85" fill="#cc0c2c"/>
<circle cx="310.5" cy="297.3" r="1.85" fill="#cc0c2c"/>
<circle cx="314.8" cy="296.8" r="1.85" fill="#cc0c2c"/>
<circle cx="333.4" cy="241.4" r="1.85" fill="#150a95"/>
<circle cx="331.0" cy="263.9" r="1.85" fill="#150a95"/>
<circle cx="336.0" cy="261.7" r="1.85" fill="#150a95"/>
<circle cx="333.4" cy="273.8" r="1.85" fill="#150a95"/>
<circle cx="333.4" cy="288.0" r="1.85" fill="#150a95"/>
<circle cx="354.4" cy="263.8" r="1.85" fill="#000"/>
<circle cx="354.4" cy="277.2" r="1.85" fill="#000"/>
<circle cx="352.1" cy="286.0" r="1.85" fill="#000"/>
<circle cx="357.1" cy="288.9" r="1.85" fill="#000"/>
<circle cx="350.1" cy="293.4" r="1.85" fill="#000"/>
<circle cx="354.2" cy="294.7" r="1.85" fill="#000"/>
<circle cx="357.5" cy="294.1" r="1.85" fill="#000"/>
<circle cx="351.5" cy="295.4" r="1.85" fill="#000"/>
<circle cx="388.4" cy="209.2" r="1.85" fill="#cc0c2c"/>
<circle cx="390.7" cy="213.9" r="1.85" fill="#cc0c2c"/>
<circle cx="386.0" cy="216.3" r="1.85" fill="#cc0c2c"/>
<circle cx="388.4" cy="221.8" r="1.85" fill="#cc0c2c"/>
<circle cx="383.6" cy="223.3" r="1.85" fill="#cc0c2c"/>
<circle cx="383.6" cy="225.2" r="1.85" fill="#cc0c2c"/>
<circle cx="388.4" cy="226.2" r="1.85" fill="#cc0c2c"/>
<circle cx="393.4" cy="225.2" r="1.85" fill="#cc0c2c"/>
<circle cx="384.0" cy="230.7" r="1.85" fill="#cc0c2c"/>
<circle cx="388.5" cy="230.7" r="1.85" fill="#cc0c2c"/>
<circle cx="393.3" cy="230.7" r="1.85" fill="#cc0c2c"/>
<circle cx="384.0" cy="234.7" r="1.85" fill="#cc0c2c"/>
<circle cx="388.5" cy="234.3" r="1.85" fill="#cc0c2c"/>
<circle cx="385.8" cy="239.2" r="1.85" fill="#cc0c2c"/>
<circle cx="390.7" cy="240.3" r="1.85" fill="#cc0c2c"/>
<circle cx="388.5" cy="248.2" r="1.85" fill="#cc0c2c"/>
<circle cx="383.7" cy="256.1" r="1.85" fill="#cc0c2c"/>
<circle cx="393.3" cy="255.0" r="1.85" fill="#cc0c2c"/>
<circle cx="388.5" cy="259.1" r="1.85" fill="#cc0c2c"/>
<circle cx="385.8" cy="263.9" r="1.85" fill="#cc0c2c"/>
<circle cx="390.7" cy="262.4" r="1.85" fill="#cc0c2c"/>
<circle cx="411.7" cy="195.2" r="1.85" fill="#150a95"/>
<circle cx="406.9" cy="199.0" r="1.85" fill="#150a95"/>
<circle cx="409.7" cy="209.2" r="1.85" fill="#150a95"/>
<circle cx="412.0" cy="215.2" r="1.85" fill="#150a95"/>
<circle cx="407.3" cy="218.7" r="1.85" fill="#150a95"/>
<circle cx="428.2" cy="221.4" r="1.85" fill="#000"/>
<circle cx="433.2" cy="225.0" r="1.85" fill="#000"/>
<circle cx="433.2" cy="234.0" r="1.85" fill="#000"/>
<circle cx="428.1" cy="237.7" r="1.85" fill="#000"/>
<circle cx="430.7" cy="247.5" r="1.85" fill="#000"/>
<circle cx="425.9" cy="250.2" r="1.85" fill="#000"/>
<circle cx="430.7" cy="252.7" r="1.85" fill="#000"/>
<circle cx="435.6" cy="252.3" r="1.85" fill="#000"/>
<circle cx="464.7" cy="208.1" r="1.85" fill="#cc0c2c"/>
<circle cx="459.5" cy="225.3" r="1.85" fill="#cc0c2c"/>
<circle cx="464.7" cy="226.8" r="1.85" fill="#cc0c2c"/>
<circle cx="469.7" cy="224.2" r="1.85" fill="#cc0c2c"/>
<circle cx="459.5" cy="233.2" r="1.85" fill="#cc0c2c"/>
<circle cx="463.2" cy="234.0" r="1.85" fill="#cc0c2c"/>
<circle cx="467.0" cy="233.2" r="1.85" fill="#cc0c2c"/>
<circle cx="469.7" cy="233.7" r="1.85" fill="#cc0c2c"/>
<circle cx="462.0" cy="236.5" r="1.85" fill="#cc0c2c"/>
<circle cx="465.5" cy="237.5" r="1.85" fill="#cc0c2c"/>
<circle cx="464.0" cy="239.5" r="1.85" fill="#cc0c2c"/>
<circle cx="461.0" cy="240.5" r="1.85" fill="#cc0c2c"/>
<circle cx="467.5" cy="240.0" r="1.85" fill="#cc0c2c"/>
<circle cx="459.5" cy="244.4" r="1.85" fill="#cc0c2c"/>
<circle cx="464.7" cy="243.7" r="1.85" fill="#cc0c2c"/>
<circle cx="469.7" cy="245.8" r="1.85" fill="#cc0c2c"/>
<circle cx="464.7" cy="248.4" r="1.85" fill="#cc0c2c"/>
<circle cx="462.2" cy="252.2" r="1.85" fill="#cc0c2c"/>
<circle cx="459.5" cy="255.0" r="1.85" fill="#cc0c2c"/>
<circle cx="467.0" cy="254.3" r="1.85" fill="#cc0c2c"/>
<circle cx="469.7" cy="256.2" r="1.85" fill="#cc0c2c"/>
<circle cx="464.7" cy="259.5" r="1.85" fill="#cc0c2c"/>
<circle cx="464.7" cy="276.4" r="1.85" fill="#cc0c2c"/>
<circle cx="464.7" cy="281.2" r="1.85" fill="#cc0c2c"/>
<circle cx="485.7" cy="208.4" r="1.85" fill="#150a95"/>
<circle cx="490.6" cy="211.0" r="1.85" fill="#150a95"/>
<circle cx="480.4" cy="214.7" r="1.85" fill="#150a95"/>
<circle cx="485.7" cy="215.2" r="1.85" fill="#150a95"/>
<circle cx="485.7" cy="235.7" r="1.85" fill="#150a95"/>
<circle cx="506.6" cy="228.7" r="1.85" fill="#000"/>
<circle cx="504.1" cy="235.7" r="1.85" fill="#000"/>
<circle cx="509.2" cy="240.7" r="1.85" fill="#000"/>
<circle cx="509.2" cy="245.6" r="1.85" fill="#000"/>
<circle cx="504.1" cy="248.9" r="1.85" fill="#000"/>
<circle cx="506.6" cy="261.8" r="1.85" fill="#000"/>
<circle cx="509.2" cy="266.3" r="1.85" fill="#000"/>
<circle cx="504.1" cy="269.0" r="1.85" fill="#000"/>
<line x1="304.00" y1="285.70" x2="321.10" y2="285.70" stroke="#000" stroke-width="1.4"/>
<line x1="325.20" y1="263.90" x2="340.00" y2="263.90" stroke="#000" stroke-width="1.4"/>
<line x1="346.10" y1="291.40" x2="362.90" y2="291.40" stroke="#000" stroke-width="1.4"/>
<line x1="380.20" y1="233.00" x2="397.10" y2="233.00" stroke="#000" stroke-width="1.4"/>
<line x1="401.20" y1="207.40" x2="418.10" y2="207.40" stroke="#000" stroke-width="1.4"/>
<line x1="422.20" y1="243.00" x2="439.00" y2="243.00" stroke="#000" stroke-width="1.4"/>
<line x1="456.20" y1="240.40" x2="473.00" y2="240.40" stroke="#000" stroke-width="1.4"/>
<line x1="477.10" y1="214.70" x2="493.90" y2="214.70" stroke="#000" stroke-width="1.4"/>
<line x1="498.40" y1="247.10" x2="514.90" y2="247.10" stroke="#000" stroke-width="1.4"/>
</svg>
</body></html>
